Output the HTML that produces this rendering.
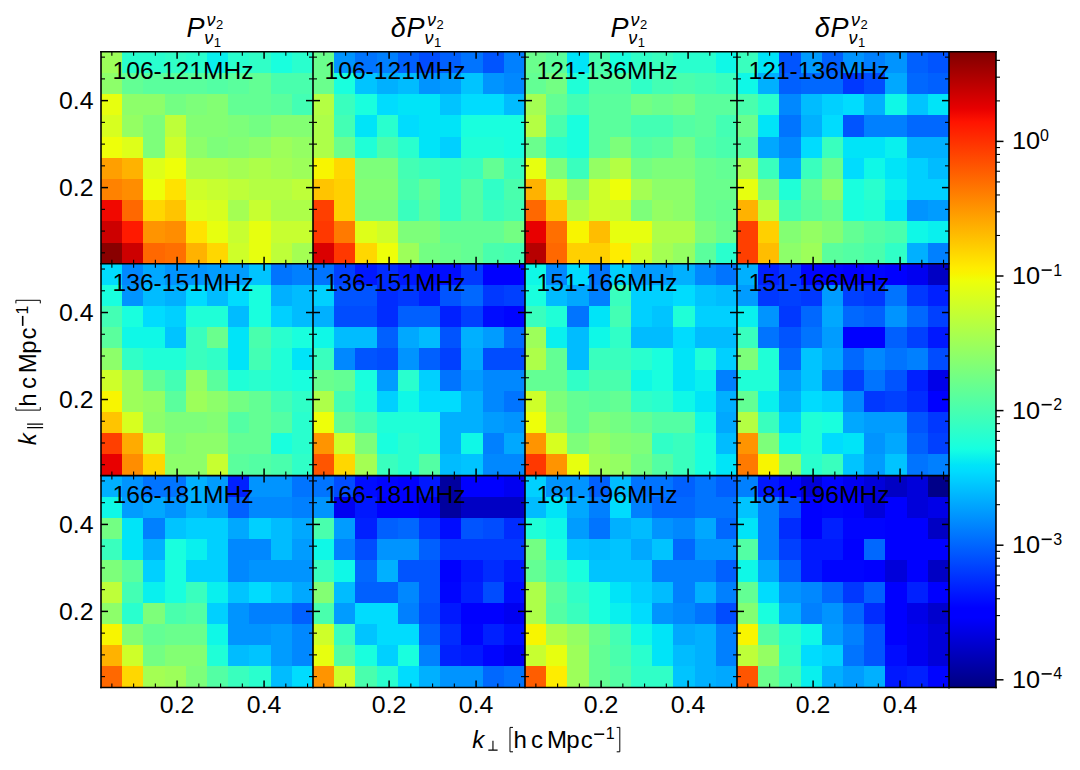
<!DOCTYPE html><html><head><meta charset="utf-8"><title>figure</title><style>html,body{margin:0;padding:0;background:#fff;width:1080px;height:770px;overflow:hidden}svg{display:block}text{font-family:"Liberation Sans",sans-serif;fill:#000}</style></head><body>
<svg width="1080" height="770" viewBox="0 0 1080 770">
<rect x="0" y="0" width="1080" height="770" fill="#fff"/>
<g shape-rendering="crispEdges">
<rect x="101.00" y="51.80" width="21.80" height="21.79" fill="#9dff5a"/>
<rect x="122.20" y="51.80" width="21.80" height="21.79" fill="#29ffce"/>
<rect x="143.40" y="51.80" width="21.80" height="21.79" fill="#29ffce"/>
<rect x="164.60" y="51.80" width="21.80" height="21.79" fill="#30ffc7"/>
<rect x="185.80" y="51.80" width="21.80" height="21.79" fill="#29ffce"/>
<rect x="207.00" y="51.80" width="21.80" height="21.79" fill="#09f0ee"/>
<rect x="228.20" y="51.80" width="21.80" height="21.79" fill="#29ffce"/>
<rect x="249.40" y="51.80" width="21.80" height="21.79" fill="#30ffc7"/>
<rect x="270.60" y="51.80" width="21.80" height="21.79" fill="#19ffde"/>
<rect x="291.80" y="51.80" width="21.80" height="21.79" fill="#29ffce"/>
<rect x="101.00" y="72.99" width="21.80" height="21.79" fill="#8dff6a"/>
<rect x="122.20" y="72.99" width="21.80" height="21.79" fill="#63ff94"/>
<rect x="143.40" y="72.99" width="21.80" height="21.79" fill="#5aff9d"/>
<rect x="164.60" y="72.99" width="21.80" height="21.79" fill="#5aff9d"/>
<rect x="185.80" y="72.99" width="21.80" height="21.79" fill="#5aff9d"/>
<rect x="207.00" y="72.99" width="21.80" height="21.79" fill="#53ffa4"/>
<rect x="228.20" y="72.99" width="21.80" height="21.79" fill="#5aff9d"/>
<rect x="249.40" y="72.99" width="21.80" height="21.79" fill="#63ff94"/>
<rect x="270.60" y="72.99" width="21.80" height="21.79" fill="#49ffad"/>
<rect x="291.80" y="72.99" width="21.80" height="21.79" fill="#49ffad"/>
<rect x="101.00" y="94.18" width="21.80" height="21.79" fill="#e7ff0f"/>
<rect x="122.20" y="94.18" width="21.80" height="21.79" fill="#8dff6a"/>
<rect x="143.40" y="94.18" width="21.80" height="21.79" fill="#8dff6a"/>
<rect x="164.60" y="94.18" width="21.80" height="21.79" fill="#73ff83"/>
<rect x="185.80" y="94.18" width="21.80" height="21.79" fill="#7dff7a"/>
<rect x="207.00" y="94.18" width="21.80" height="21.79" fill="#83ff73"/>
<rect x="228.20" y="94.18" width="21.80" height="21.79" fill="#63ff94"/>
<rect x="249.40" y="94.18" width="21.80" height="21.79" fill="#63ff94"/>
<rect x="270.60" y="94.18" width="21.80" height="21.79" fill="#5aff9d"/>
<rect x="291.80" y="94.18" width="21.80" height="21.79" fill="#43ffb4"/>
<rect x="101.00" y="115.37" width="21.80" height="21.79" fill="#d7ff1f"/>
<rect x="122.20" y="115.37" width="21.80" height="21.79" fill="#94ff63"/>
<rect x="143.40" y="115.37" width="21.80" height="21.79" fill="#7dff7a"/>
<rect x="164.60" y="115.37" width="21.80" height="21.79" fill="#beff39"/>
<rect x="185.80" y="115.37" width="21.80" height="21.79" fill="#83ff73"/>
<rect x="207.00" y="115.37" width="21.80" height="21.79" fill="#83ff73"/>
<rect x="228.20" y="115.37" width="21.80" height="21.79" fill="#7dff7a"/>
<rect x="249.40" y="115.37" width="21.80" height="21.79" fill="#73ff83"/>
<rect x="270.60" y="115.37" width="21.80" height="21.79" fill="#83ff73"/>
<rect x="291.80" y="115.37" width="21.80" height="21.79" fill="#83ff73"/>
<rect x="101.00" y="136.56" width="21.80" height="21.79" fill="#eeff09"/>
<rect x="122.20" y="136.56" width="21.80" height="21.79" fill="#deff19"/>
<rect x="143.40" y="136.56" width="21.80" height="21.79" fill="#7dff7a"/>
<rect x="164.60" y="136.56" width="21.80" height="21.79" fill="#ceff29"/>
<rect x="185.80" y="136.56" width="21.80" height="21.79" fill="#8dff6a"/>
<rect x="207.00" y="136.56" width="21.80" height="21.79" fill="#7dff7a"/>
<rect x="228.20" y="136.56" width="21.80" height="21.79" fill="#83ff73"/>
<rect x="249.40" y="136.56" width="21.80" height="21.79" fill="#8dff6a"/>
<rect x="270.60" y="136.56" width="21.80" height="21.79" fill="#9dff5a"/>
<rect x="291.80" y="136.56" width="21.80" height="21.79" fill="#94ff63"/>
<rect x="101.00" y="157.75" width="21.80" height="21.79" fill="#ff9f00"/>
<rect x="122.20" y="157.75" width="21.80" height="21.79" fill="#ffb200"/>
<rect x="143.40" y="157.75" width="21.80" height="21.79" fill="#deff19"/>
<rect x="164.60" y="157.75" width="21.80" height="21.79" fill="#eeff09"/>
<rect x="185.80" y="157.75" width="21.80" height="21.79" fill="#adff49"/>
<rect x="207.00" y="157.75" width="21.80" height="21.79" fill="#adff49"/>
<rect x="228.20" y="157.75" width="21.80" height="21.79" fill="#a4ff53"/>
<rect x="249.40" y="157.75" width="21.80" height="21.79" fill="#adff49"/>
<rect x="270.60" y="157.75" width="21.80" height="21.79" fill="#a4ff53"/>
<rect x="291.80" y="157.75" width="21.80" height="21.79" fill="#9dff5a"/>
<rect x="101.00" y="178.94" width="21.80" height="21.79" fill="#ff8200"/>
<rect x="122.20" y="178.94" width="21.80" height="21.79" fill="#ff8d00"/>
<rect x="143.40" y="178.94" width="21.80" height="21.79" fill="#eeff09"/>
<rect x="164.60" y="178.94" width="21.80" height="21.79" fill="#ffe200"/>
<rect x="185.80" y="178.94" width="21.80" height="21.79" fill="#ceff29"/>
<rect x="207.00" y="178.94" width="21.80" height="21.79" fill="#c7ff30"/>
<rect x="228.20" y="178.94" width="21.80" height="21.79" fill="#beff39"/>
<rect x="249.40" y="178.94" width="21.80" height="21.79" fill="#b4ff43"/>
<rect x="270.60" y="178.94" width="21.80" height="21.79" fill="#b4ff43"/>
<rect x="291.80" y="178.94" width="21.80" height="21.79" fill="#beff39"/>
<rect x="101.00" y="200.13" width="21.80" height="21.79" fill="#f10800"/>
<rect x="122.20" y="200.13" width="21.80" height="21.79" fill="#ff6800"/>
<rect x="143.40" y="200.13" width="21.80" height="21.79" fill="#ffd700"/>
<rect x="164.60" y="200.13" width="21.80" height="21.79" fill="#ffc400"/>
<rect x="185.80" y="200.13" width="21.80" height="21.79" fill="#deff19"/>
<rect x="207.00" y="200.13" width="21.80" height="21.79" fill="#d7ff1f"/>
<rect x="228.20" y="200.13" width="21.80" height="21.79" fill="#a4ff53"/>
<rect x="249.40" y="200.13" width="21.80" height="21.79" fill="#c7ff30"/>
<rect x="270.60" y="200.13" width="21.80" height="21.79" fill="#adff49"/>
<rect x="291.80" y="200.13" width="21.80" height="21.79" fill="#adff49"/>
<rect x="101.00" y="221.32" width="21.80" height="21.79" fill="#cd0000"/>
<rect x="122.20" y="221.32" width="21.80" height="21.79" fill="#ff1a00"/>
<rect x="143.40" y="221.32" width="21.80" height="21.79" fill="#ff9400"/>
<rect x="164.60" y="221.32" width="21.80" height="21.79" fill="#ff8d00"/>
<rect x="185.80" y="221.32" width="21.80" height="21.79" fill="#ffe200"/>
<rect x="207.00" y="221.32" width="21.80" height="21.79" fill="#e7ff0f"/>
<rect x="228.20" y="221.32" width="21.80" height="21.79" fill="#c7ff30"/>
<rect x="249.40" y="221.32" width="21.80" height="21.79" fill="#e7ff0f"/>
<rect x="270.60" y="221.32" width="21.80" height="21.79" fill="#c7ff30"/>
<rect x="291.80" y="221.32" width="21.80" height="21.79" fill="#c7ff30"/>
<rect x="101.00" y="242.51" width="21.80" height="21.79" fill="#890000"/>
<rect x="122.20" y="242.51" width="21.80" height="21.79" fill="#cd0000"/>
<rect x="143.40" y="242.51" width="21.80" height="21.79" fill="#ff6800"/>
<rect x="164.60" y="242.51" width="21.80" height="21.79" fill="#ff6f00"/>
<rect x="185.80" y="242.51" width="21.80" height="21.79" fill="#ffb200"/>
<rect x="207.00" y="242.51" width="21.80" height="21.79" fill="#ffd700"/>
<rect x="228.20" y="242.51" width="21.80" height="21.79" fill="#ceff29"/>
<rect x="249.40" y="242.51" width="21.80" height="21.79" fill="#e7ff0f"/>
<rect x="270.60" y="242.51" width="21.80" height="21.79" fill="#beff39"/>
<rect x="291.80" y="242.51" width="21.80" height="21.79" fill="#a4ff53"/>
<rect x="313.00" y="51.80" width="21.80" height="21.79" fill="#6aff8d"/>
<rect x="334.20" y="51.80" width="21.80" height="21.79" fill="#0094ff"/>
<rect x="355.40" y="51.80" width="21.80" height="21.79" fill="#0074ff"/>
<rect x="376.60" y="51.80" width="21.80" height="21.79" fill="#0080ff"/>
<rect x="397.80" y="51.80" width="21.80" height="21.79" fill="#0060ff"/>
<rect x="419.00" y="51.80" width="21.80" height="21.79" fill="#004cff"/>
<rect x="440.20" y="51.80" width="21.80" height="21.79" fill="#0060ff"/>
<rect x="461.40" y="51.80" width="21.80" height="21.79" fill="#0074ff"/>
<rect x="482.60" y="51.80" width="21.80" height="21.79" fill="#0054ff"/>
<rect x="503.80" y="51.80" width="21.80" height="21.79" fill="#0080ff"/>
<rect x="313.00" y="72.99" width="21.80" height="21.79" fill="#6aff8d"/>
<rect x="334.20" y="72.99" width="21.80" height="21.79" fill="#19ffde"/>
<rect x="355.40" y="72.99" width="21.80" height="21.79" fill="#00c4ff"/>
<rect x="376.60" y="72.99" width="21.80" height="21.79" fill="#00b0ff"/>
<rect x="397.80" y="72.99" width="21.80" height="21.79" fill="#00bcff"/>
<rect x="419.00" y="72.99" width="21.80" height="21.79" fill="#0094ff"/>
<rect x="440.20" y="72.99" width="21.80" height="21.79" fill="#009cff"/>
<rect x="461.40" y="72.99" width="21.80" height="21.79" fill="#00c4ff"/>
<rect x="482.60" y="72.99" width="21.80" height="21.79" fill="#0094ff"/>
<rect x="503.80" y="72.99" width="21.80" height="21.79" fill="#0088ff"/>
<rect x="313.00" y="94.18" width="21.80" height="21.79" fill="#b4ff43"/>
<rect x="334.20" y="94.18" width="21.80" height="21.79" fill="#39ffbe"/>
<rect x="355.40" y="94.18" width="21.80" height="21.79" fill="#19ffde"/>
<rect x="376.60" y="94.18" width="21.80" height="21.79" fill="#00dcfe"/>
<rect x="397.80" y="94.18" width="21.80" height="21.79" fill="#00e4f8"/>
<rect x="419.00" y="94.18" width="21.80" height="21.79" fill="#00e4f8"/>
<rect x="440.20" y="94.18" width="21.80" height="21.79" fill="#00c4ff"/>
<rect x="461.40" y="94.18" width="21.80" height="21.79" fill="#00dcfe"/>
<rect x="482.60" y="94.18" width="21.80" height="21.79" fill="#00dcfe"/>
<rect x="503.80" y="94.18" width="21.80" height="21.79" fill="#00bcff"/>
<rect x="313.00" y="115.37" width="21.80" height="21.79" fill="#adff49"/>
<rect x="334.20" y="115.37" width="21.80" height="21.79" fill="#43ffb4"/>
<rect x="355.40" y="115.37" width="21.80" height="21.79" fill="#00e4f8"/>
<rect x="376.60" y="115.37" width="21.80" height="21.79" fill="#29ffce"/>
<rect x="397.80" y="115.37" width="21.80" height="21.79" fill="#00dcfe"/>
<rect x="419.00" y="115.37" width="21.80" height="21.79" fill="#00e4f8"/>
<rect x="440.20" y="115.37" width="21.80" height="21.79" fill="#00e4f8"/>
<rect x="461.40" y="115.37" width="21.80" height="21.79" fill="#19ffde"/>
<rect x="482.60" y="115.37" width="21.80" height="21.79" fill="#19ffde"/>
<rect x="503.80" y="115.37" width="21.80" height="21.79" fill="#19ffde"/>
<rect x="313.00" y="136.56" width="21.80" height="21.79" fill="#adff49"/>
<rect x="334.20" y="136.56" width="21.80" height="21.79" fill="#6aff8d"/>
<rect x="355.40" y="136.56" width="21.80" height="21.79" fill="#1fffd7"/>
<rect x="376.60" y="136.56" width="21.80" height="21.79" fill="#49ffad"/>
<rect x="397.80" y="136.56" width="21.80" height="21.79" fill="#29ffce"/>
<rect x="419.00" y="136.56" width="21.80" height="21.79" fill="#00e4f8"/>
<rect x="440.20" y="136.56" width="21.80" height="21.79" fill="#00d0ff"/>
<rect x="461.40" y="136.56" width="21.80" height="21.79" fill="#1fffd7"/>
<rect x="482.60" y="136.56" width="21.80" height="21.79" fill="#1fffd7"/>
<rect x="503.80" y="136.56" width="21.80" height="21.79" fill="#19ffde"/>
<rect x="313.00" y="157.75" width="21.80" height="21.79" fill="#f8f500"/>
<rect x="334.20" y="157.75" width="21.80" height="21.79" fill="#ffd700"/>
<rect x="355.40" y="157.75" width="21.80" height="21.79" fill="#7dff7a"/>
<rect x="376.60" y="157.75" width="21.80" height="21.79" fill="#7dff7a"/>
<rect x="397.80" y="157.75" width="21.80" height="21.79" fill="#43ffb4"/>
<rect x="419.00" y="157.75" width="21.80" height="21.79" fill="#39ffbe"/>
<rect x="440.20" y="157.75" width="21.80" height="21.79" fill="#30ffc7"/>
<rect x="461.40" y="157.75" width="21.80" height="21.79" fill="#39ffbe"/>
<rect x="482.60" y="157.75" width="21.80" height="21.79" fill="#63ff94"/>
<rect x="503.80" y="157.75" width="21.80" height="21.79" fill="#39ffbe"/>
<rect x="313.00" y="178.94" width="21.80" height="21.79" fill="#ffc400"/>
<rect x="334.20" y="178.94" width="21.80" height="21.79" fill="#ffd000"/>
<rect x="355.40" y="178.94" width="21.80" height="21.79" fill="#83ff73"/>
<rect x="376.60" y="178.94" width="21.80" height="21.79" fill="#83ff73"/>
<rect x="397.80" y="178.94" width="21.80" height="21.79" fill="#49ffad"/>
<rect x="419.00" y="178.94" width="21.80" height="21.79" fill="#63ff94"/>
<rect x="440.20" y="178.94" width="21.80" height="21.79" fill="#30ffc7"/>
<rect x="461.40" y="178.94" width="21.80" height="21.79" fill="#53ffa4"/>
<rect x="482.60" y="178.94" width="21.80" height="21.79" fill="#30ffc7"/>
<rect x="503.80" y="178.94" width="21.80" height="21.79" fill="#49ffad"/>
<rect x="313.00" y="200.13" width="21.80" height="21.79" fill="#ff3f00"/>
<rect x="334.20" y="200.13" width="21.80" height="21.79" fill="#ffd000"/>
<rect x="355.40" y="200.13" width="21.80" height="21.79" fill="#7dff7a"/>
<rect x="376.60" y="200.13" width="21.80" height="21.79" fill="#7dff7a"/>
<rect x="397.80" y="200.13" width="21.80" height="21.79" fill="#39ffbe"/>
<rect x="419.00" y="200.13" width="21.80" height="21.79" fill="#5aff9d"/>
<rect x="440.20" y="200.13" width="21.80" height="21.79" fill="#30ffc7"/>
<rect x="461.40" y="200.13" width="21.80" height="21.79" fill="#53ffa4"/>
<rect x="482.60" y="200.13" width="21.80" height="21.79" fill="#39ffbe"/>
<rect x="503.80" y="200.13" width="21.80" height="21.79" fill="#43ffb4"/>
<rect x="313.00" y="221.32" width="21.80" height="21.79" fill="#ff3800"/>
<rect x="334.20" y="221.32" width="21.80" height="21.79" fill="#ff7a00"/>
<rect x="355.40" y="221.32" width="21.80" height="21.79" fill="#deff19"/>
<rect x="376.60" y="221.32" width="21.80" height="21.79" fill="#ceff29"/>
<rect x="397.80" y="221.32" width="21.80" height="21.79" fill="#7dff7a"/>
<rect x="419.00" y="221.32" width="21.80" height="21.79" fill="#7dff7a"/>
<rect x="440.20" y="221.32" width="21.80" height="21.79" fill="#63ff94"/>
<rect x="461.40" y="221.32" width="21.80" height="21.79" fill="#63ff94"/>
<rect x="482.60" y="221.32" width="21.80" height="21.79" fill="#63ff94"/>
<rect x="503.80" y="221.32" width="21.80" height="21.79" fill="#73ff83"/>
<rect x="313.00" y="242.51" width="21.80" height="21.79" fill="#da0000"/>
<rect x="334.20" y="242.51" width="21.80" height="21.79" fill="#ff3800"/>
<rect x="355.40" y="242.51" width="21.80" height="21.79" fill="#ffd700"/>
<rect x="376.60" y="242.51" width="21.80" height="21.79" fill="#eeff09"/>
<rect x="397.80" y="242.51" width="21.80" height="21.79" fill="#9dff5a"/>
<rect x="419.00" y="242.51" width="21.80" height="21.79" fill="#73ff83"/>
<rect x="440.20" y="242.51" width="21.80" height="21.79" fill="#6aff8d"/>
<rect x="461.40" y="242.51" width="21.80" height="21.79" fill="#63ff94"/>
<rect x="482.60" y="242.51" width="21.80" height="21.79" fill="#49ffad"/>
<rect x="503.80" y="242.51" width="21.80" height="21.79" fill="#43ffb4"/>
<rect x="525.00" y="51.80" width="21.80" height="21.79" fill="#6aff8d"/>
<rect x="546.20" y="51.80" width="21.80" height="21.79" fill="#5aff9d"/>
<rect x="567.40" y="51.80" width="21.80" height="21.79" fill="#00e4f8"/>
<rect x="588.60" y="51.80" width="21.80" height="21.79" fill="#49ffad"/>
<rect x="609.80" y="51.80" width="21.80" height="21.79" fill="#19ffde"/>
<rect x="631.00" y="51.80" width="21.80" height="21.79" fill="#30ffc7"/>
<rect x="652.20" y="51.80" width="21.80" height="21.79" fill="#39ffbe"/>
<rect x="673.40" y="51.80" width="21.80" height="21.79" fill="#29ffce"/>
<rect x="694.60" y="51.80" width="21.80" height="21.79" fill="#29ffce"/>
<rect x="715.80" y="51.80" width="21.80" height="21.79" fill="#0ff8e7"/>
<rect x="525.00" y="72.99" width="21.80" height="21.79" fill="#63ff94"/>
<rect x="546.20" y="72.99" width="21.80" height="21.79" fill="#73ff83"/>
<rect x="567.40" y="72.99" width="21.80" height="21.79" fill="#1fffd7"/>
<rect x="588.60" y="72.99" width="21.80" height="21.79" fill="#53ffa4"/>
<rect x="609.80" y="72.99" width="21.80" height="21.79" fill="#53ffa4"/>
<rect x="631.00" y="72.99" width="21.80" height="21.79" fill="#30ffc7"/>
<rect x="652.20" y="72.99" width="21.80" height="21.79" fill="#43ffb4"/>
<rect x="673.40" y="72.99" width="21.80" height="21.79" fill="#49ffad"/>
<rect x="694.60" y="72.99" width="21.80" height="21.79" fill="#43ffb4"/>
<rect x="715.80" y="72.99" width="21.80" height="21.79" fill="#39ffbe"/>
<rect x="525.00" y="94.18" width="21.80" height="21.79" fill="#a4ff53"/>
<rect x="546.20" y="94.18" width="21.80" height="21.79" fill="#63ff94"/>
<rect x="567.40" y="94.18" width="21.80" height="21.79" fill="#43ffb4"/>
<rect x="588.60" y="94.18" width="21.80" height="21.79" fill="#5aff9d"/>
<rect x="609.80" y="94.18" width="21.80" height="21.79" fill="#5aff9d"/>
<rect x="631.00" y="94.18" width="21.80" height="21.79" fill="#73ff83"/>
<rect x="652.20" y="94.18" width="21.80" height="21.79" fill="#6aff8d"/>
<rect x="673.40" y="94.18" width="21.80" height="21.79" fill="#73ff83"/>
<rect x="694.60" y="94.18" width="21.80" height="21.79" fill="#5aff9d"/>
<rect x="715.80" y="94.18" width="21.80" height="21.79" fill="#5aff9d"/>
<rect x="525.00" y="115.37" width="21.80" height="21.79" fill="#b4ff43"/>
<rect x="546.20" y="115.37" width="21.80" height="21.79" fill="#49ffad"/>
<rect x="567.40" y="115.37" width="21.80" height="21.79" fill="#19ffde"/>
<rect x="588.60" y="115.37" width="21.80" height="21.79" fill="#5aff9d"/>
<rect x="609.80" y="115.37" width="21.80" height="21.79" fill="#5aff9d"/>
<rect x="631.00" y="115.37" width="21.80" height="21.79" fill="#43ffb4"/>
<rect x="652.20" y="115.37" width="21.80" height="21.79" fill="#43ffb4"/>
<rect x="673.40" y="115.37" width="21.80" height="21.79" fill="#53ffa4"/>
<rect x="694.60" y="115.37" width="21.80" height="21.79" fill="#5aff9d"/>
<rect x="715.80" y="115.37" width="21.80" height="21.79" fill="#43ffb4"/>
<rect x="525.00" y="136.56" width="21.80" height="21.79" fill="#6aff8d"/>
<rect x="546.20" y="136.56" width="21.80" height="21.79" fill="#29ffce"/>
<rect x="567.40" y="136.56" width="21.80" height="21.79" fill="#19ffde"/>
<rect x="588.60" y="136.56" width="21.80" height="21.79" fill="#5aff9d"/>
<rect x="609.80" y="136.56" width="21.80" height="21.79" fill="#7dff7a"/>
<rect x="631.00" y="136.56" width="21.80" height="21.79" fill="#53ffa4"/>
<rect x="652.20" y="136.56" width="21.80" height="21.79" fill="#5aff9d"/>
<rect x="673.40" y="136.56" width="21.80" height="21.79" fill="#73ff83"/>
<rect x="694.60" y="136.56" width="21.80" height="21.79" fill="#53ffa4"/>
<rect x="715.80" y="136.56" width="21.80" height="21.79" fill="#49ffad"/>
<rect x="525.00" y="157.75" width="21.80" height="21.79" fill="#e7ff0f"/>
<rect x="546.20" y="157.75" width="21.80" height="21.79" fill="#7dff7a"/>
<rect x="567.40" y="157.75" width="21.80" height="21.79" fill="#39ffbe"/>
<rect x="588.60" y="157.75" width="21.80" height="21.79" fill="#94ff63"/>
<rect x="609.80" y="157.75" width="21.80" height="21.79" fill="#b4ff43"/>
<rect x="631.00" y="157.75" width="21.80" height="21.79" fill="#73ff83"/>
<rect x="652.20" y="157.75" width="21.80" height="21.79" fill="#7dff7a"/>
<rect x="673.40" y="157.75" width="21.80" height="21.79" fill="#7dff7a"/>
<rect x="694.60" y="157.75" width="21.80" height="21.79" fill="#6aff8d"/>
<rect x="715.80" y="157.75" width="21.80" height="21.79" fill="#63ff94"/>
<rect x="525.00" y="178.94" width="21.80" height="21.79" fill="#ffb200"/>
<rect x="546.20" y="178.94" width="21.80" height="21.79" fill="#ceff29"/>
<rect x="567.40" y="178.94" width="21.80" height="21.79" fill="#8dff6a"/>
<rect x="588.60" y="178.94" width="21.80" height="21.79" fill="#ceff29"/>
<rect x="609.80" y="178.94" width="21.80" height="21.79" fill="#eeff09"/>
<rect x="631.00" y="178.94" width="21.80" height="21.79" fill="#a4ff53"/>
<rect x="652.20" y="178.94" width="21.80" height="21.79" fill="#8dff6a"/>
<rect x="673.40" y="178.94" width="21.80" height="21.79" fill="#8dff6a"/>
<rect x="694.60" y="178.94" width="21.80" height="21.79" fill="#6aff8d"/>
<rect x="715.80" y="178.94" width="21.80" height="21.79" fill="#6aff8d"/>
<rect x="525.00" y="200.13" width="21.80" height="21.79" fill="#ff6800"/>
<rect x="546.20" y="200.13" width="21.80" height="21.79" fill="#ffc400"/>
<rect x="567.40" y="200.13" width="21.80" height="21.79" fill="#b4ff43"/>
<rect x="588.60" y="200.13" width="21.80" height="21.79" fill="#ceff29"/>
<rect x="609.80" y="200.13" width="21.80" height="21.79" fill="#c7ff30"/>
<rect x="631.00" y="200.13" width="21.80" height="21.79" fill="#7dff7a"/>
<rect x="652.20" y="200.13" width="21.80" height="21.79" fill="#94ff63"/>
<rect x="673.40" y="200.13" width="21.80" height="21.79" fill="#8dff6a"/>
<rect x="694.60" y="200.13" width="21.80" height="21.79" fill="#6aff8d"/>
<rect x="715.80" y="200.13" width="21.80" height="21.79" fill="#63ff94"/>
<rect x="525.00" y="221.32" width="21.80" height="21.79" fill="#e80000"/>
<rect x="546.20" y="221.32" width="21.80" height="21.79" fill="#ff6f00"/>
<rect x="567.40" y="221.32" width="21.80" height="21.79" fill="#f8f500"/>
<rect x="588.60" y="221.32" width="21.80" height="21.79" fill="#ffbd00"/>
<rect x="609.80" y="221.32" width="21.80" height="21.79" fill="#e7ff0f"/>
<rect x="631.00" y="221.32" width="21.80" height="21.79" fill="#e7ff0f"/>
<rect x="652.20" y="221.32" width="21.80" height="21.79" fill="#adff49"/>
<rect x="673.40" y="221.32" width="21.80" height="21.79" fill="#adff49"/>
<rect x="694.60" y="221.32" width="21.80" height="21.79" fill="#7dff7a"/>
<rect x="715.80" y="221.32" width="21.80" height="21.79" fill="#6aff8d"/>
<rect x="525.00" y="242.51" width="21.80" height="21.79" fill="#b60000"/>
<rect x="546.20" y="242.51" width="21.80" height="21.79" fill="#ff6800"/>
<rect x="567.40" y="242.51" width="21.80" height="21.79" fill="#ffd000"/>
<rect x="588.60" y="242.51" width="21.80" height="21.79" fill="#ffd000"/>
<rect x="609.80" y="242.51" width="21.80" height="21.79" fill="#feed00"/>
<rect x="631.00" y="242.51" width="21.80" height="21.79" fill="#ceff29"/>
<rect x="652.20" y="242.51" width="21.80" height="21.79" fill="#a4ff53"/>
<rect x="673.40" y="242.51" width="21.80" height="21.79" fill="#94ff63"/>
<rect x="694.60" y="242.51" width="21.80" height="21.79" fill="#5aff9d"/>
<rect x="715.80" y="242.51" width="21.80" height="21.79" fill="#29ffce"/>
<rect x="737.00" y="51.80" width="21.80" height="21.79" fill="#39ffbe"/>
<rect x="758.20" y="51.80" width="21.80" height="21.79" fill="#00e4f8"/>
<rect x="779.40" y="51.80" width="21.80" height="21.79" fill="#0054ff"/>
<rect x="800.60" y="51.80" width="21.80" height="21.79" fill="#009cff"/>
<rect x="821.80" y="51.80" width="21.80" height="21.79" fill="#0060ff"/>
<rect x="843.00" y="51.80" width="21.80" height="21.79" fill="#0094ff"/>
<rect x="864.20" y="51.80" width="21.80" height="21.79" fill="#0080ff"/>
<rect x="885.40" y="51.80" width="21.80" height="21.79" fill="#0094ff"/>
<rect x="906.60" y="51.80" width="21.80" height="21.79" fill="#0060ff"/>
<rect x="927.80" y="51.80" width="21.80" height="21.79" fill="#0054ff"/>
<rect x="737.00" y="72.99" width="21.80" height="21.79" fill="#0ff8e7"/>
<rect x="758.20" y="72.99" width="21.80" height="21.79" fill="#00b0ff"/>
<rect x="779.40" y="72.99" width="21.80" height="21.79" fill="#0060ff"/>
<rect x="800.60" y="72.99" width="21.80" height="21.79" fill="#0068ff"/>
<rect x="821.80" y="72.99" width="21.80" height="21.79" fill="#0068ff"/>
<rect x="843.00" y="72.99" width="21.80" height="21.79" fill="#0038ff"/>
<rect x="864.20" y="72.99" width="21.80" height="21.79" fill="#004cff"/>
<rect x="885.40" y="72.99" width="21.80" height="21.79" fill="#00a8ff"/>
<rect x="906.60" y="72.99" width="21.80" height="21.79" fill="#0068ff"/>
<rect x="927.80" y="72.99" width="21.80" height="21.79" fill="#0060ff"/>
<rect x="737.00" y="94.18" width="21.80" height="21.79" fill="#49ffad"/>
<rect x="758.20" y="94.18" width="21.80" height="21.79" fill="#29ffce"/>
<rect x="779.40" y="94.18" width="21.80" height="21.79" fill="#0088ff"/>
<rect x="800.60" y="94.18" width="21.80" height="21.79" fill="#00bcff"/>
<rect x="821.80" y="94.18" width="21.80" height="21.79" fill="#00d0ff"/>
<rect x="843.00" y="94.18" width="21.80" height="21.79" fill="#00dcfe"/>
<rect x="864.20" y="94.18" width="21.80" height="21.79" fill="#00b0ff"/>
<rect x="885.40" y="94.18" width="21.80" height="21.79" fill="#0ff8e7"/>
<rect x="906.60" y="94.18" width="21.80" height="21.79" fill="#00c4ff"/>
<rect x="927.80" y="94.18" width="21.80" height="21.79" fill="#00e4f8"/>
<rect x="737.00" y="115.37" width="21.80" height="21.79" fill="#6aff8d"/>
<rect x="758.20" y="115.37" width="21.80" height="21.79" fill="#00e4f8"/>
<rect x="779.40" y="115.37" width="21.80" height="21.79" fill="#0074ff"/>
<rect x="800.60" y="115.37" width="21.80" height="21.79" fill="#00b0ff"/>
<rect x="821.80" y="115.37" width="21.80" height="21.79" fill="#00dcfe"/>
<rect x="843.00" y="115.37" width="21.80" height="21.79" fill="#0054ff"/>
<rect x="864.20" y="115.37" width="21.80" height="21.79" fill="#0080ff"/>
<rect x="885.40" y="115.37" width="21.80" height="21.79" fill="#0080ff"/>
<rect x="906.60" y="115.37" width="21.80" height="21.79" fill="#0068ff"/>
<rect x="927.80" y="115.37" width="21.80" height="21.79" fill="#0068ff"/>
<rect x="737.00" y="136.56" width="21.80" height="21.79" fill="#53ffa4"/>
<rect x="758.20" y="136.56" width="21.80" height="21.79" fill="#00a8ff"/>
<rect x="779.40" y="136.56" width="21.80" height="21.79" fill="#0088ff"/>
<rect x="800.60" y="136.56" width="21.80" height="21.79" fill="#00dcfe"/>
<rect x="821.80" y="136.56" width="21.80" height="21.79" fill="#39ffbe"/>
<rect x="843.00" y="136.56" width="21.80" height="21.79" fill="#00e4f8"/>
<rect x="864.20" y="136.56" width="21.80" height="21.79" fill="#00e4f8"/>
<rect x="885.40" y="136.56" width="21.80" height="21.79" fill="#09f0ee"/>
<rect x="906.60" y="136.56" width="21.80" height="21.79" fill="#00b0ff"/>
<rect x="927.80" y="136.56" width="21.80" height="21.79" fill="#00b0ff"/>
<rect x="737.00" y="157.75" width="21.80" height="21.79" fill="#adff49"/>
<rect x="758.20" y="157.75" width="21.80" height="21.79" fill="#39ffbe"/>
<rect x="779.40" y="157.75" width="21.80" height="21.79" fill="#00a8ff"/>
<rect x="800.60" y="157.75" width="21.80" height="21.79" fill="#39ffbe"/>
<rect x="821.80" y="157.75" width="21.80" height="21.79" fill="#6aff8d"/>
<rect x="843.00" y="157.75" width="21.80" height="21.79" fill="#00dcfe"/>
<rect x="864.20" y="157.75" width="21.80" height="21.79" fill="#0ff8e7"/>
<rect x="885.40" y="157.75" width="21.80" height="21.79" fill="#00e4f8"/>
<rect x="906.60" y="157.75" width="21.80" height="21.79" fill="#00d0ff"/>
<rect x="927.80" y="157.75" width="21.80" height="21.79" fill="#00bcff"/>
<rect x="737.00" y="178.94" width="21.80" height="21.79" fill="#e7ff0f"/>
<rect x="758.20" y="178.94" width="21.80" height="21.79" fill="#7dff7a"/>
<rect x="779.40" y="178.94" width="21.80" height="21.79" fill="#1fffd7"/>
<rect x="800.60" y="178.94" width="21.80" height="21.79" fill="#63ff94"/>
<rect x="821.80" y="178.94" width="21.80" height="21.79" fill="#8dff6a"/>
<rect x="843.00" y="178.94" width="21.80" height="21.79" fill="#19ffde"/>
<rect x="864.20" y="178.94" width="21.80" height="21.79" fill="#29ffce"/>
<rect x="885.40" y="178.94" width="21.80" height="21.79" fill="#09f0ee"/>
<rect x="906.60" y="178.94" width="21.80" height="21.79" fill="#00d0ff"/>
<rect x="927.80" y="178.94" width="21.80" height="21.79" fill="#00d0ff"/>
<rect x="737.00" y="200.13" width="21.80" height="21.79" fill="#ffb200"/>
<rect x="758.20" y="200.13" width="21.80" height="21.79" fill="#beff39"/>
<rect x="779.40" y="200.13" width="21.80" height="21.79" fill="#43ffb4"/>
<rect x="800.60" y="200.13" width="21.80" height="21.79" fill="#5aff9d"/>
<rect x="821.80" y="200.13" width="21.80" height="21.79" fill="#6aff8d"/>
<rect x="843.00" y="200.13" width="21.80" height="21.79" fill="#19ffde"/>
<rect x="864.20" y="200.13" width="21.80" height="21.79" fill="#1fffd7"/>
<rect x="885.40" y="200.13" width="21.80" height="21.79" fill="#00e4f8"/>
<rect x="906.60" y="200.13" width="21.80" height="21.79" fill="#0094ff"/>
<rect x="927.80" y="200.13" width="21.80" height="21.79" fill="#009cff"/>
<rect x="737.00" y="221.32" width="21.80" height="21.79" fill="#ff3f00"/>
<rect x="758.20" y="221.32" width="21.80" height="21.79" fill="#ffd000"/>
<rect x="779.40" y="221.32" width="21.80" height="21.79" fill="#83ff73"/>
<rect x="800.60" y="221.32" width="21.80" height="21.79" fill="#94ff63"/>
<rect x="821.80" y="221.32" width="21.80" height="21.79" fill="#83ff73"/>
<rect x="843.00" y="221.32" width="21.80" height="21.79" fill="#63ff94"/>
<rect x="864.20" y="221.32" width="21.80" height="21.79" fill="#53ffa4"/>
<rect x="885.40" y="221.32" width="21.80" height="21.79" fill="#49ffad"/>
<rect x="906.60" y="221.32" width="21.80" height="21.79" fill="#0ff8e7"/>
<rect x="927.80" y="221.32" width="21.80" height="21.79" fill="#09f0ee"/>
<rect x="737.00" y="242.51" width="21.80" height="21.79" fill="#ff3f00"/>
<rect x="758.20" y="242.51" width="21.80" height="21.79" fill="#ffbd00"/>
<rect x="779.40" y="242.51" width="21.80" height="21.79" fill="#8dff6a"/>
<rect x="800.60" y="242.51" width="21.80" height="21.79" fill="#9dff5a"/>
<rect x="821.80" y="242.51" width="21.80" height="21.79" fill="#5aff9d"/>
<rect x="843.00" y="242.51" width="21.80" height="21.79" fill="#53ffa4"/>
<rect x="864.20" y="242.51" width="21.80" height="21.79" fill="#49ffad"/>
<rect x="885.40" y="242.51" width="21.80" height="21.79" fill="#30ffc7"/>
<rect x="906.60" y="242.51" width="21.80" height="21.79" fill="#00b0ff"/>
<rect x="927.80" y="242.51" width="21.80" height="21.79" fill="#0080ff"/>
<rect x="101.00" y="263.70" width="21.80" height="21.79" fill="#00dcfe"/>
<rect x="122.20" y="263.70" width="21.80" height="21.79" fill="#0088ff"/>
<rect x="143.40" y="263.70" width="21.80" height="21.79" fill="#00a8ff"/>
<rect x="164.60" y="263.70" width="21.80" height="21.79" fill="#0094ff"/>
<rect x="185.80" y="263.70" width="21.80" height="21.79" fill="#0094ff"/>
<rect x="207.00" y="263.70" width="21.80" height="21.79" fill="#009cff"/>
<rect x="228.20" y="263.70" width="21.80" height="21.79" fill="#009cff"/>
<rect x="249.40" y="263.70" width="21.80" height="21.79" fill="#00c4ff"/>
<rect x="270.60" y="263.70" width="21.80" height="21.79" fill="#0074ff"/>
<rect x="291.80" y="263.70" width="21.80" height="21.79" fill="#0080ff"/>
<rect x="101.00" y="284.89" width="21.80" height="21.79" fill="#19ffde"/>
<rect x="122.20" y="284.89" width="21.80" height="21.79" fill="#0094ff"/>
<rect x="143.40" y="284.89" width="21.80" height="21.79" fill="#00bcff"/>
<rect x="164.60" y="284.89" width="21.80" height="21.79" fill="#00b0ff"/>
<rect x="185.80" y="284.89" width="21.80" height="21.79" fill="#00dcfe"/>
<rect x="207.00" y="284.89" width="21.80" height="21.79" fill="#00bcff"/>
<rect x="228.20" y="284.89" width="21.80" height="21.79" fill="#00dcfe"/>
<rect x="249.40" y="284.89" width="21.80" height="21.79" fill="#19ffde"/>
<rect x="270.60" y="284.89" width="21.80" height="21.79" fill="#00b0ff"/>
<rect x="291.80" y="284.89" width="21.80" height="21.79" fill="#00bcff"/>
<rect x="101.00" y="306.08" width="21.80" height="21.79" fill="#43ffb4"/>
<rect x="122.20" y="306.08" width="21.80" height="21.79" fill="#19ffde"/>
<rect x="143.40" y="306.08" width="21.80" height="21.79" fill="#00dcfe"/>
<rect x="164.60" y="306.08" width="21.80" height="21.79" fill="#00d0ff"/>
<rect x="185.80" y="306.08" width="21.80" height="21.79" fill="#1fffd7"/>
<rect x="207.00" y="306.08" width="21.80" height="21.79" fill="#1fffd7"/>
<rect x="228.20" y="306.08" width="21.80" height="21.79" fill="#00bcff"/>
<rect x="249.40" y="306.08" width="21.80" height="21.79" fill="#19ffde"/>
<rect x="270.60" y="306.08" width="21.80" height="21.79" fill="#00d0ff"/>
<rect x="291.80" y="306.08" width="21.80" height="21.79" fill="#00bcff"/>
<rect x="101.00" y="327.27" width="21.80" height="21.79" fill="#5aff9d"/>
<rect x="122.20" y="327.27" width="21.80" height="21.79" fill="#0ff8e7"/>
<rect x="143.40" y="327.27" width="21.80" height="21.79" fill="#0ff8e7"/>
<rect x="164.60" y="327.27" width="21.80" height="21.79" fill="#00c4ff"/>
<rect x="185.80" y="327.27" width="21.80" height="21.79" fill="#39ffbe"/>
<rect x="207.00" y="327.27" width="21.80" height="21.79" fill="#6aff8d"/>
<rect x="228.20" y="327.27" width="21.80" height="21.79" fill="#00e4f8"/>
<rect x="249.40" y="327.27" width="21.80" height="21.79" fill="#49ffad"/>
<rect x="270.60" y="327.27" width="21.80" height="21.79" fill="#29ffce"/>
<rect x="291.80" y="327.27" width="21.80" height="21.79" fill="#19ffde"/>
<rect x="101.00" y="348.46" width="21.80" height="21.79" fill="#8dff6a"/>
<rect x="122.20" y="348.46" width="21.80" height="21.79" fill="#30ffc7"/>
<rect x="143.40" y="348.46" width="21.80" height="21.79" fill="#1fffd7"/>
<rect x="164.60" y="348.46" width="21.80" height="21.79" fill="#1fffd7"/>
<rect x="185.80" y="348.46" width="21.80" height="21.79" fill="#39ffbe"/>
<rect x="207.00" y="348.46" width="21.80" height="21.79" fill="#30ffc7"/>
<rect x="228.20" y="348.46" width="21.80" height="21.79" fill="#00e4f8"/>
<rect x="249.40" y="348.46" width="21.80" height="21.79" fill="#43ffb4"/>
<rect x="270.60" y="348.46" width="21.80" height="21.79" fill="#1fffd7"/>
<rect x="291.80" y="348.46" width="21.80" height="21.79" fill="#00e4f8"/>
<rect x="101.00" y="369.65" width="21.80" height="21.79" fill="#ceff29"/>
<rect x="122.20" y="369.65" width="21.80" height="21.79" fill="#9dff5a"/>
<rect x="143.40" y="369.65" width="21.80" height="21.79" fill="#63ff94"/>
<rect x="164.60" y="369.65" width="21.80" height="21.79" fill="#43ffb4"/>
<rect x="185.80" y="369.65" width="21.80" height="21.79" fill="#94ff63"/>
<rect x="207.00" y="369.65" width="21.80" height="21.79" fill="#5aff9d"/>
<rect x="228.20" y="369.65" width="21.80" height="21.79" fill="#1fffd7"/>
<rect x="249.40" y="369.65" width="21.80" height="21.79" fill="#29ffce"/>
<rect x="270.60" y="369.65" width="21.80" height="21.79" fill="#1fffd7"/>
<rect x="291.80" y="369.65" width="21.80" height="21.79" fill="#19ffde"/>
<rect x="101.00" y="390.84" width="21.80" height="21.79" fill="#f8f500"/>
<rect x="122.20" y="390.84" width="21.80" height="21.79" fill="#9dff5a"/>
<rect x="143.40" y="390.84" width="21.80" height="21.79" fill="#94ff63"/>
<rect x="164.60" y="390.84" width="21.80" height="21.79" fill="#5aff9d"/>
<rect x="185.80" y="390.84" width="21.80" height="21.79" fill="#9dff5a"/>
<rect x="207.00" y="390.84" width="21.80" height="21.79" fill="#8dff6a"/>
<rect x="228.20" y="390.84" width="21.80" height="21.79" fill="#73ff83"/>
<rect x="249.40" y="390.84" width="21.80" height="21.79" fill="#63ff94"/>
<rect x="270.60" y="390.84" width="21.80" height="21.79" fill="#43ffb4"/>
<rect x="291.80" y="390.84" width="21.80" height="21.79" fill="#30ffc7"/>
<rect x="101.00" y="412.03" width="21.80" height="21.79" fill="#ffc400"/>
<rect x="122.20" y="412.03" width="21.80" height="21.79" fill="#d7ff1f"/>
<rect x="143.40" y="412.03" width="21.80" height="21.79" fill="#8dff6a"/>
<rect x="164.60" y="412.03" width="21.80" height="21.79" fill="#7dff7a"/>
<rect x="185.80" y="412.03" width="21.80" height="21.79" fill="#7dff7a"/>
<rect x="207.00" y="412.03" width="21.80" height="21.79" fill="#83ff73"/>
<rect x="228.20" y="412.03" width="21.80" height="21.79" fill="#53ffa4"/>
<rect x="249.40" y="412.03" width="21.80" height="21.79" fill="#63ff94"/>
<rect x="270.60" y="412.03" width="21.80" height="21.79" fill="#53ffa4"/>
<rect x="291.80" y="412.03" width="21.80" height="21.79" fill="#29ffce"/>
<rect x="101.00" y="433.22" width="21.80" height="21.79" fill="#ff3f00"/>
<rect x="122.20" y="433.22" width="21.80" height="21.79" fill="#ffab00"/>
<rect x="143.40" y="433.22" width="21.80" height="21.79" fill="#ceff29"/>
<rect x="164.60" y="433.22" width="21.80" height="21.79" fill="#83ff73"/>
<rect x="185.80" y="433.22" width="21.80" height="21.79" fill="#8dff6a"/>
<rect x="207.00" y="433.22" width="21.80" height="21.79" fill="#8dff6a"/>
<rect x="228.20" y="433.22" width="21.80" height="21.79" fill="#63ff94"/>
<rect x="249.40" y="433.22" width="21.80" height="21.79" fill="#63ff94"/>
<rect x="270.60" y="433.22" width="21.80" height="21.79" fill="#19ffde"/>
<rect x="291.80" y="433.22" width="21.80" height="21.79" fill="#29ffce"/>
<rect x="101.00" y="454.41" width="21.80" height="21.79" fill="#e80000"/>
<rect x="122.20" y="454.41" width="21.80" height="21.79" fill="#ff8d00"/>
<rect x="143.40" y="454.41" width="21.80" height="21.79" fill="#ffd700"/>
<rect x="164.60" y="454.41" width="21.80" height="21.79" fill="#8dff6a"/>
<rect x="185.80" y="454.41" width="21.80" height="21.79" fill="#8dff6a"/>
<rect x="207.00" y="454.41" width="21.80" height="21.79" fill="#c7ff30"/>
<rect x="228.20" y="454.41" width="21.80" height="21.79" fill="#5aff9d"/>
<rect x="249.40" y="454.41" width="21.80" height="21.79" fill="#53ffa4"/>
<rect x="270.60" y="454.41" width="21.80" height="21.79" fill="#49ffad"/>
<rect x="291.80" y="454.41" width="21.80" height="21.79" fill="#30ffc7"/>
<rect x="313.00" y="263.70" width="21.80" height="21.79" fill="#0074ff"/>
<rect x="334.20" y="263.70" width="21.80" height="21.79" fill="#0040ff"/>
<rect x="355.40" y="263.70" width="21.80" height="21.79" fill="#0018ff"/>
<rect x="376.60" y="263.70" width="21.80" height="21.79" fill="#002cff"/>
<rect x="397.80" y="263.70" width="21.80" height="21.79" fill="#0018ff"/>
<rect x="419.00" y="263.70" width="21.80" height="21.79" fill="#000cff"/>
<rect x="440.20" y="263.70" width="21.80" height="21.79" fill="#000cff"/>
<rect x="461.40" y="263.70" width="21.80" height="21.79" fill="#0038ff"/>
<rect x="482.60" y="263.70" width="21.80" height="21.79" fill="#0000ff"/>
<rect x="503.80" y="263.70" width="21.80" height="21.79" fill="#0000ff"/>
<rect x="313.00" y="284.89" width="21.80" height="21.79" fill="#00d0ff"/>
<rect x="334.20" y="284.89" width="21.80" height="21.79" fill="#0054ff"/>
<rect x="355.40" y="284.89" width="21.80" height="21.79" fill="#0054ff"/>
<rect x="376.60" y="284.89" width="21.80" height="21.79" fill="#002cff"/>
<rect x="397.80" y="284.89" width="21.80" height="21.79" fill="#0038ff"/>
<rect x="419.00" y="284.89" width="21.80" height="21.79" fill="#0020ff"/>
<rect x="440.20" y="284.89" width="21.80" height="21.79" fill="#0054ff"/>
<rect x="461.40" y="284.89" width="21.80" height="21.79" fill="#0068ff"/>
<rect x="482.60" y="284.89" width="21.80" height="21.79" fill="#0038ff"/>
<rect x="503.80" y="284.89" width="21.80" height="21.79" fill="#0040ff"/>
<rect x="313.00" y="306.08" width="21.80" height="21.79" fill="#00b0ff"/>
<rect x="334.20" y="306.08" width="21.80" height="21.79" fill="#004cff"/>
<rect x="355.40" y="306.08" width="21.80" height="21.79" fill="#004cff"/>
<rect x="376.60" y="306.08" width="21.80" height="21.79" fill="#002cff"/>
<rect x="397.80" y="306.08" width="21.80" height="21.79" fill="#0060ff"/>
<rect x="419.00" y="306.08" width="21.80" height="21.79" fill="#0060ff"/>
<rect x="440.20" y="306.08" width="21.80" height="21.79" fill="#0020ff"/>
<rect x="461.40" y="306.08" width="21.80" height="21.79" fill="#0040ff"/>
<rect x="482.60" y="306.08" width="21.80" height="21.79" fill="#000cff"/>
<rect x="503.80" y="306.08" width="21.80" height="21.79" fill="#0004ff"/>
<rect x="313.00" y="327.27" width="21.80" height="21.79" fill="#0ff8e7"/>
<rect x="334.20" y="327.27" width="21.80" height="21.79" fill="#00bcff"/>
<rect x="355.40" y="327.27" width="21.80" height="21.79" fill="#00bcff"/>
<rect x="376.60" y="327.27" width="21.80" height="21.79" fill="#0060ff"/>
<rect x="397.80" y="327.27" width="21.80" height="21.79" fill="#00a8ff"/>
<rect x="419.00" y="327.27" width="21.80" height="21.79" fill="#00bcff"/>
<rect x="440.20" y="327.27" width="21.80" height="21.79" fill="#0054ff"/>
<rect x="461.40" y="327.27" width="21.80" height="21.79" fill="#00b0ff"/>
<rect x="482.60" y="327.27" width="21.80" height="21.79" fill="#009cff"/>
<rect x="503.80" y="327.27" width="21.80" height="21.79" fill="#0068ff"/>
<rect x="313.00" y="348.46" width="21.80" height="21.79" fill="#39ffbe"/>
<rect x="334.20" y="348.46" width="21.80" height="21.79" fill="#0088ff"/>
<rect x="355.40" y="348.46" width="21.80" height="21.79" fill="#0054ff"/>
<rect x="376.60" y="348.46" width="21.80" height="21.79" fill="#004cff"/>
<rect x="397.80" y="348.46" width="21.80" height="21.79" fill="#0094ff"/>
<rect x="419.00" y="348.46" width="21.80" height="21.79" fill="#0060ff"/>
<rect x="440.20" y="348.46" width="21.80" height="21.79" fill="#0040ff"/>
<rect x="461.40" y="348.46" width="21.80" height="21.79" fill="#00a8ff"/>
<rect x="482.60" y="348.46" width="21.80" height="21.79" fill="#004cff"/>
<rect x="503.80" y="348.46" width="21.80" height="21.79" fill="#004cff"/>
<rect x="313.00" y="369.65" width="21.80" height="21.79" fill="#6aff8d"/>
<rect x="334.20" y="369.65" width="21.80" height="21.79" fill="#63ff94"/>
<rect x="355.40" y="369.65" width="21.80" height="21.79" fill="#19ffde"/>
<rect x="376.60" y="369.65" width="21.80" height="21.79" fill="#009cff"/>
<rect x="397.80" y="369.65" width="21.80" height="21.79" fill="#29ffce"/>
<rect x="419.00" y="369.65" width="21.80" height="21.79" fill="#00d0ff"/>
<rect x="440.20" y="369.65" width="21.80" height="21.79" fill="#0074ff"/>
<rect x="461.40" y="369.65" width="21.80" height="21.79" fill="#009cff"/>
<rect x="482.60" y="369.65" width="21.80" height="21.79" fill="#0088ff"/>
<rect x="503.80" y="369.65" width="21.80" height="21.79" fill="#0088ff"/>
<rect x="313.00" y="390.84" width="21.80" height="21.79" fill="#adff49"/>
<rect x="334.20" y="390.84" width="21.80" height="21.79" fill="#43ffb4"/>
<rect x="355.40" y="390.84" width="21.80" height="21.79" fill="#1fffd7"/>
<rect x="376.60" y="390.84" width="21.80" height="21.79" fill="#00d0ff"/>
<rect x="397.80" y="390.84" width="21.80" height="21.79" fill="#0ff8e7"/>
<rect x="419.00" y="390.84" width="21.80" height="21.79" fill="#00dcfe"/>
<rect x="440.20" y="390.84" width="21.80" height="21.79" fill="#00dcfe"/>
<rect x="461.40" y="390.84" width="21.80" height="21.79" fill="#00b0ff"/>
<rect x="482.60" y="390.84" width="21.80" height="21.79" fill="#0088ff"/>
<rect x="503.80" y="390.84" width="21.80" height="21.79" fill="#0074ff"/>
<rect x="313.00" y="412.03" width="21.80" height="21.79" fill="#eeff09"/>
<rect x="334.20" y="412.03" width="21.80" height="21.79" fill="#63ff94"/>
<rect x="355.40" y="412.03" width="21.80" height="21.79" fill="#43ffb4"/>
<rect x="376.60" y="412.03" width="21.80" height="21.79" fill="#1fffd7"/>
<rect x="397.80" y="412.03" width="21.80" height="21.79" fill="#1fffd7"/>
<rect x="419.00" y="412.03" width="21.80" height="21.79" fill="#1fffd7"/>
<rect x="440.20" y="412.03" width="21.80" height="21.79" fill="#00b0ff"/>
<rect x="461.40" y="412.03" width="21.80" height="21.79" fill="#00b0ff"/>
<rect x="482.60" y="412.03" width="21.80" height="21.79" fill="#009cff"/>
<rect x="503.80" y="412.03" width="21.80" height="21.79" fill="#0094ff"/>
<rect x="313.00" y="433.22" width="21.80" height="21.79" fill="#ff9400"/>
<rect x="334.20" y="433.22" width="21.80" height="21.79" fill="#ceff29"/>
<rect x="355.40" y="433.22" width="21.80" height="21.79" fill="#7dff7a"/>
<rect x="376.60" y="433.22" width="21.80" height="21.79" fill="#19ffde"/>
<rect x="397.80" y="433.22" width="21.80" height="21.79" fill="#29ffce"/>
<rect x="419.00" y="433.22" width="21.80" height="21.79" fill="#1fffd7"/>
<rect x="440.20" y="433.22" width="21.80" height="21.79" fill="#00b0ff"/>
<rect x="461.40" y="433.22" width="21.80" height="21.79" fill="#0ff8e7"/>
<rect x="482.60" y="433.22" width="21.80" height="21.79" fill="#0080ff"/>
<rect x="503.80" y="433.22" width="21.80" height="21.79" fill="#00a8ff"/>
<rect x="313.00" y="454.41" width="21.80" height="21.79" fill="#ff5500"/>
<rect x="334.20" y="454.41" width="21.80" height="21.79" fill="#ffd700"/>
<rect x="355.40" y="454.41" width="21.80" height="21.79" fill="#a4ff53"/>
<rect x="376.60" y="454.41" width="21.80" height="21.79" fill="#39ffbe"/>
<rect x="397.80" y="454.41" width="21.80" height="21.79" fill="#29ffce"/>
<rect x="419.00" y="454.41" width="21.80" height="21.79" fill="#53ffa4"/>
<rect x="440.20" y="454.41" width="21.80" height="21.79" fill="#00bcff"/>
<rect x="461.40" y="454.41" width="21.80" height="21.79" fill="#00c4ff"/>
<rect x="482.60" y="454.41" width="21.80" height="21.79" fill="#0088ff"/>
<rect x="503.80" y="454.41" width="21.80" height="21.79" fill="#0088ff"/>
<rect x="525.00" y="263.70" width="21.80" height="21.79" fill="#0ff8e7"/>
<rect x="546.20" y="263.70" width="21.80" height="21.79" fill="#0088ff"/>
<rect x="567.40" y="263.70" width="21.80" height="21.79" fill="#00dcfe"/>
<rect x="588.60" y="263.70" width="21.80" height="21.79" fill="#0074ff"/>
<rect x="609.80" y="263.70" width="21.80" height="21.79" fill="#00d0ff"/>
<rect x="631.00" y="263.70" width="21.80" height="21.79" fill="#009cff"/>
<rect x="652.20" y="263.70" width="21.80" height="21.79" fill="#009cff"/>
<rect x="673.40" y="263.70" width="21.80" height="21.79" fill="#00b0ff"/>
<rect x="694.60" y="263.70" width="21.80" height="21.79" fill="#0088ff"/>
<rect x="715.80" y="263.70" width="21.80" height="21.79" fill="#0074ff"/>
<rect x="525.00" y="284.89" width="21.80" height="21.79" fill="#19ffde"/>
<rect x="546.20" y="284.89" width="21.80" height="21.79" fill="#00bcff"/>
<rect x="567.40" y="284.89" width="21.80" height="21.79" fill="#00a8ff"/>
<rect x="588.60" y="284.89" width="21.80" height="21.79" fill="#0080ff"/>
<rect x="609.80" y="284.89" width="21.80" height="21.79" fill="#39ffbe"/>
<rect x="631.00" y="284.89" width="21.80" height="21.79" fill="#00d0ff"/>
<rect x="652.20" y="284.89" width="21.80" height="21.79" fill="#00d0ff"/>
<rect x="673.40" y="284.89" width="21.80" height="21.79" fill="#00dcfe"/>
<rect x="694.60" y="284.89" width="21.80" height="21.79" fill="#00c4ff"/>
<rect x="715.80" y="284.89" width="21.80" height="21.79" fill="#00bcff"/>
<rect x="525.00" y="306.08" width="21.80" height="21.79" fill="#39ffbe"/>
<rect x="546.20" y="306.08" width="21.80" height="21.79" fill="#1fffd7"/>
<rect x="567.40" y="306.08" width="21.80" height="21.79" fill="#0074ff"/>
<rect x="588.60" y="306.08" width="21.80" height="21.79" fill="#00e4f8"/>
<rect x="609.80" y="306.08" width="21.80" height="21.79" fill="#43ffb4"/>
<rect x="631.00" y="306.08" width="21.80" height="21.79" fill="#00d0ff"/>
<rect x="652.20" y="306.08" width="21.80" height="21.79" fill="#00c4ff"/>
<rect x="673.40" y="306.08" width="21.80" height="21.79" fill="#1fffd7"/>
<rect x="694.60" y="306.08" width="21.80" height="21.79" fill="#00d0ff"/>
<rect x="715.80" y="306.08" width="21.80" height="21.79" fill="#00d0ff"/>
<rect x="525.00" y="327.27" width="21.80" height="21.79" fill="#9dff5a"/>
<rect x="546.20" y="327.27" width="21.80" height="21.79" fill="#09f0ee"/>
<rect x="567.40" y="327.27" width="21.80" height="21.79" fill="#00bcff"/>
<rect x="588.60" y="327.27" width="21.80" height="21.79" fill="#0ff8e7"/>
<rect x="609.80" y="327.27" width="21.80" height="21.79" fill="#30ffc7"/>
<rect x="631.00" y="327.27" width="21.80" height="21.79" fill="#00bcff"/>
<rect x="652.20" y="327.27" width="21.80" height="21.79" fill="#00bcff"/>
<rect x="673.40" y="327.27" width="21.80" height="21.79" fill="#00dcfe"/>
<rect x="694.60" y="327.27" width="21.80" height="21.79" fill="#00bcff"/>
<rect x="715.80" y="327.27" width="21.80" height="21.79" fill="#00bcff"/>
<rect x="525.00" y="348.46" width="21.80" height="21.79" fill="#adff49"/>
<rect x="546.20" y="348.46" width="21.80" height="21.79" fill="#63ff94"/>
<rect x="567.40" y="348.46" width="21.80" height="21.79" fill="#00bcff"/>
<rect x="588.60" y="348.46" width="21.80" height="21.79" fill="#39ffbe"/>
<rect x="609.80" y="348.46" width="21.80" height="21.79" fill="#39ffbe"/>
<rect x="631.00" y="348.46" width="21.80" height="21.79" fill="#29ffce"/>
<rect x="652.20" y="348.46" width="21.80" height="21.79" fill="#19ffde"/>
<rect x="673.40" y="348.46" width="21.80" height="21.79" fill="#00e4f8"/>
<rect x="694.60" y="348.46" width="21.80" height="21.79" fill="#1fffd7"/>
<rect x="715.80" y="348.46" width="21.80" height="21.79" fill="#00d0ff"/>
<rect x="525.00" y="369.65" width="21.80" height="21.79" fill="#63ff94"/>
<rect x="546.20" y="369.65" width="21.80" height="21.79" fill="#63ff94"/>
<rect x="567.40" y="369.65" width="21.80" height="21.79" fill="#30ffc7"/>
<rect x="588.60" y="369.65" width="21.80" height="21.79" fill="#49ffad"/>
<rect x="609.80" y="369.65" width="21.80" height="21.79" fill="#49ffad"/>
<rect x="631.00" y="369.65" width="21.80" height="21.79" fill="#0ff8e7"/>
<rect x="652.20" y="369.65" width="21.80" height="21.79" fill="#19ffde"/>
<rect x="673.40" y="369.65" width="21.80" height="21.79" fill="#00e4f8"/>
<rect x="694.60" y="369.65" width="21.80" height="21.79" fill="#09f0ee"/>
<rect x="715.80" y="369.65" width="21.80" height="21.79" fill="#0080ff"/>
<rect x="525.00" y="390.84" width="21.80" height="21.79" fill="#ceff29"/>
<rect x="546.20" y="390.84" width="21.80" height="21.79" fill="#7dff7a"/>
<rect x="567.40" y="390.84" width="21.80" height="21.79" fill="#63ff94"/>
<rect x="588.60" y="390.84" width="21.80" height="21.79" fill="#5aff9d"/>
<rect x="609.80" y="390.84" width="21.80" height="21.79" fill="#63ff94"/>
<rect x="631.00" y="390.84" width="21.80" height="21.79" fill="#30ffc7"/>
<rect x="652.20" y="390.84" width="21.80" height="21.79" fill="#29ffce"/>
<rect x="673.40" y="390.84" width="21.80" height="21.79" fill="#0ff8e7"/>
<rect x="694.60" y="390.84" width="21.80" height="21.79" fill="#00e4f8"/>
<rect x="715.80" y="390.84" width="21.80" height="21.79" fill="#00b0ff"/>
<rect x="525.00" y="412.03" width="21.80" height="21.79" fill="#eeff09"/>
<rect x="546.20" y="412.03" width="21.80" height="21.79" fill="#8dff6a"/>
<rect x="567.40" y="412.03" width="21.80" height="21.79" fill="#63ff94"/>
<rect x="588.60" y="412.03" width="21.80" height="21.79" fill="#7dff7a"/>
<rect x="609.80" y="412.03" width="21.80" height="21.79" fill="#73ff83"/>
<rect x="631.00" y="412.03" width="21.80" height="21.79" fill="#63ff94"/>
<rect x="652.20" y="412.03" width="21.80" height="21.79" fill="#53ffa4"/>
<rect x="673.40" y="412.03" width="21.80" height="21.79" fill="#53ffa4"/>
<rect x="694.60" y="412.03" width="21.80" height="21.79" fill="#0ff8e7"/>
<rect x="715.80" y="412.03" width="21.80" height="21.79" fill="#00a8ff"/>
<rect x="525.00" y="433.22" width="21.80" height="21.79" fill="#ff9400"/>
<rect x="546.20" y="433.22" width="21.80" height="21.79" fill="#d7ff1f"/>
<rect x="567.40" y="433.22" width="21.80" height="21.79" fill="#7dff7a"/>
<rect x="588.60" y="433.22" width="21.80" height="21.79" fill="#94ff63"/>
<rect x="609.80" y="433.22" width="21.80" height="21.79" fill="#83ff73"/>
<rect x="631.00" y="433.22" width="21.80" height="21.79" fill="#7dff7a"/>
<rect x="652.20" y="433.22" width="21.80" height="21.79" fill="#30ffc7"/>
<rect x="673.40" y="433.22" width="21.80" height="21.79" fill="#39ffbe"/>
<rect x="694.60" y="433.22" width="21.80" height="21.79" fill="#19ffde"/>
<rect x="715.80" y="433.22" width="21.80" height="21.79" fill="#00bcff"/>
<rect x="525.00" y="454.41" width="21.80" height="21.79" fill="#ff3800"/>
<rect x="546.20" y="454.41" width="21.80" height="21.79" fill="#ff9400"/>
<rect x="567.40" y="454.41" width="21.80" height="21.79" fill="#e7ff0f"/>
<rect x="588.60" y="454.41" width="21.80" height="21.79" fill="#9dff5a"/>
<rect x="609.80" y="454.41" width="21.80" height="21.79" fill="#94ff63"/>
<rect x="631.00" y="454.41" width="21.80" height="21.79" fill="#73ff83"/>
<rect x="652.20" y="454.41" width="21.80" height="21.79" fill="#53ffa4"/>
<rect x="673.40" y="454.41" width="21.80" height="21.79" fill="#39ffbe"/>
<rect x="694.60" y="454.41" width="21.80" height="21.79" fill="#19ffde"/>
<rect x="715.80" y="454.41" width="21.80" height="21.79" fill="#00e4f8"/>
<rect x="737.00" y="263.70" width="21.80" height="21.79" fill="#00b0ff"/>
<rect x="758.20" y="263.70" width="21.80" height="21.79" fill="#0020ff"/>
<rect x="779.40" y="263.70" width="21.80" height="21.79" fill="#0038ff"/>
<rect x="800.60" y="263.70" width="21.80" height="21.79" fill="#0004ff"/>
<rect x="821.80" y="263.70" width="21.80" height="21.79" fill="#0004ff"/>
<rect x="843.00" y="263.70" width="21.80" height="21.79" fill="#0000ff"/>
<rect x="864.20" y="263.70" width="21.80" height="21.79" fill="#0004ff"/>
<rect x="885.40" y="263.70" width="21.80" height="21.79" fill="#0000ff"/>
<rect x="906.60" y="263.70" width="21.80" height="21.79" fill="#0000f1"/>
<rect x="927.80" y="263.70" width="21.80" height="21.79" fill="#0000c4"/>
<rect x="737.00" y="284.89" width="21.80" height="21.79" fill="#009cff"/>
<rect x="758.20" y="284.89" width="21.80" height="21.79" fill="#0038ff"/>
<rect x="779.40" y="284.89" width="21.80" height="21.79" fill="#0040ff"/>
<rect x="800.60" y="284.89" width="21.80" height="21.79" fill="#0038ff"/>
<rect x="821.80" y="284.89" width="21.80" height="21.79" fill="#009cff"/>
<rect x="843.00" y="284.89" width="21.80" height="21.79" fill="#0040ff"/>
<rect x="864.20" y="284.89" width="21.80" height="21.79" fill="#0038ff"/>
<rect x="885.40" y="284.89" width="21.80" height="21.79" fill="#0074ff"/>
<rect x="906.60" y="284.89" width="21.80" height="21.79" fill="#0038ff"/>
<rect x="927.80" y="284.89" width="21.80" height="21.79" fill="#0020ff"/>
<rect x="737.00" y="306.08" width="21.80" height="21.79" fill="#09f0ee"/>
<rect x="758.20" y="306.08" width="21.80" height="21.79" fill="#0094ff"/>
<rect x="779.40" y="306.08" width="21.80" height="21.79" fill="#0038ff"/>
<rect x="800.60" y="306.08" width="21.80" height="21.79" fill="#0068ff"/>
<rect x="821.80" y="306.08" width="21.80" height="21.79" fill="#00a8ff"/>
<rect x="843.00" y="306.08" width="21.80" height="21.79" fill="#0068ff"/>
<rect x="864.20" y="306.08" width="21.80" height="21.79" fill="#0060ff"/>
<rect x="885.40" y="306.08" width="21.80" height="21.79" fill="#0094ff"/>
<rect x="906.60" y="306.08" width="21.80" height="21.79" fill="#0068ff"/>
<rect x="927.80" y="306.08" width="21.80" height="21.79" fill="#0040ff"/>
<rect x="737.00" y="327.27" width="21.80" height="21.79" fill="#39ffbe"/>
<rect x="758.20" y="327.27" width="21.80" height="21.79" fill="#0074ff"/>
<rect x="779.40" y="327.27" width="21.80" height="21.79" fill="#0054ff"/>
<rect x="800.60" y="327.27" width="21.80" height="21.79" fill="#0074ff"/>
<rect x="821.80" y="327.27" width="21.80" height="21.79" fill="#009cff"/>
<rect x="843.00" y="327.27" width="21.80" height="21.79" fill="#0000ff"/>
<rect x="864.20" y="327.27" width="21.80" height="21.79" fill="#0000ff"/>
<rect x="885.40" y="327.27" width="21.80" height="21.79" fill="#0060ff"/>
<rect x="906.60" y="327.27" width="21.80" height="21.79" fill="#0040ff"/>
<rect x="927.80" y="327.27" width="21.80" height="21.79" fill="#0018ff"/>
<rect x="737.00" y="348.46" width="21.80" height="21.79" fill="#7dff7a"/>
<rect x="758.20" y="348.46" width="21.80" height="21.79" fill="#1fffd7"/>
<rect x="779.40" y="348.46" width="21.80" height="21.79" fill="#0068ff"/>
<rect x="800.60" y="348.46" width="21.80" height="21.79" fill="#00c4ff"/>
<rect x="821.80" y="348.46" width="21.80" height="21.79" fill="#00a8ff"/>
<rect x="843.00" y="348.46" width="21.80" height="21.79" fill="#0068ff"/>
<rect x="864.20" y="348.46" width="21.80" height="21.79" fill="#0088ff"/>
<rect x="885.40" y="348.46" width="21.80" height="21.79" fill="#0074ff"/>
<rect x="906.60" y="348.46" width="21.80" height="21.79" fill="#0080ff"/>
<rect x="927.80" y="348.46" width="21.80" height="21.79" fill="#004cff"/>
<rect x="737.00" y="369.65" width="21.80" height="21.79" fill="#1fffd7"/>
<rect x="758.20" y="369.65" width="21.80" height="21.79" fill="#1fffd7"/>
<rect x="779.40" y="369.65" width="21.80" height="21.79" fill="#009cff"/>
<rect x="800.60" y="369.65" width="21.80" height="21.79" fill="#00c4ff"/>
<rect x="821.80" y="369.65" width="21.80" height="21.79" fill="#0080ff"/>
<rect x="843.00" y="369.65" width="21.80" height="21.79" fill="#0040ff"/>
<rect x="864.20" y="369.65" width="21.80" height="21.79" fill="#0074ff"/>
<rect x="885.40" y="369.65" width="21.80" height="21.79" fill="#0054ff"/>
<rect x="906.60" y="369.65" width="21.80" height="21.79" fill="#0020ff"/>
<rect x="927.80" y="369.65" width="21.80" height="21.79" fill="#0000e8"/>
<rect x="737.00" y="390.84" width="21.80" height="21.79" fill="#63ff94"/>
<rect x="758.20" y="390.84" width="21.80" height="21.79" fill="#09f0ee"/>
<rect x="779.40" y="390.84" width="21.80" height="21.79" fill="#00b0ff"/>
<rect x="800.60" y="390.84" width="21.80" height="21.79" fill="#00dcfe"/>
<rect x="821.80" y="390.84" width="21.80" height="21.79" fill="#00d0ff"/>
<rect x="843.00" y="390.84" width="21.80" height="21.79" fill="#0088ff"/>
<rect x="864.20" y="390.84" width="21.80" height="21.79" fill="#0038ff"/>
<rect x="885.40" y="390.84" width="21.80" height="21.79" fill="#0040ff"/>
<rect x="906.60" y="390.84" width="21.80" height="21.79" fill="#002cff"/>
<rect x="927.80" y="390.84" width="21.80" height="21.79" fill="#0000ff"/>
<rect x="737.00" y="412.03" width="21.80" height="21.79" fill="#b4ff43"/>
<rect x="758.20" y="412.03" width="21.80" height="21.79" fill="#39ffbe"/>
<rect x="779.40" y="412.03" width="21.80" height="21.79" fill="#00d0ff"/>
<rect x="800.60" y="412.03" width="21.80" height="21.79" fill="#1fffd7"/>
<rect x="821.80" y="412.03" width="21.80" height="21.79" fill="#19ffde"/>
<rect x="843.00" y="412.03" width="21.80" height="21.79" fill="#00a8ff"/>
<rect x="864.20" y="412.03" width="21.80" height="21.79" fill="#009cff"/>
<rect x="885.40" y="412.03" width="21.80" height="21.79" fill="#009cff"/>
<rect x="906.60" y="412.03" width="21.80" height="21.79" fill="#0054ff"/>
<rect x="927.80" y="412.03" width="21.80" height="21.79" fill="#0038ff"/>
<rect x="737.00" y="433.22" width="21.80" height="21.79" fill="#ff9400"/>
<rect x="758.20" y="433.22" width="21.80" height="21.79" fill="#7dff7a"/>
<rect x="779.40" y="433.22" width="21.80" height="21.79" fill="#0ff8e7"/>
<rect x="800.60" y="433.22" width="21.80" height="21.79" fill="#1fffd7"/>
<rect x="821.80" y="433.22" width="21.80" height="21.79" fill="#00dcfe"/>
<rect x="843.00" y="433.22" width="21.80" height="21.79" fill="#00e4f8"/>
<rect x="864.20" y="433.22" width="21.80" height="21.79" fill="#0094ff"/>
<rect x="885.40" y="433.22" width="21.80" height="21.79" fill="#00a8ff"/>
<rect x="906.60" y="433.22" width="21.80" height="21.79" fill="#0060ff"/>
<rect x="927.80" y="433.22" width="21.80" height="21.79" fill="#0040ff"/>
<rect x="737.00" y="454.41" width="21.80" height="21.79" fill="#ff7a00"/>
<rect x="758.20" y="454.41" width="21.80" height="21.79" fill="#f8f500"/>
<rect x="779.40" y="454.41" width="21.80" height="21.79" fill="#8dff6a"/>
<rect x="800.60" y="454.41" width="21.80" height="21.79" fill="#29ffce"/>
<rect x="821.80" y="454.41" width="21.80" height="21.79" fill="#39ffbe"/>
<rect x="843.00" y="454.41" width="21.80" height="21.79" fill="#00c4ff"/>
<rect x="864.20" y="454.41" width="21.80" height="21.79" fill="#009cff"/>
<rect x="885.40" y="454.41" width="21.80" height="21.79" fill="#00c4ff"/>
<rect x="906.60" y="454.41" width="21.80" height="21.79" fill="#0074ff"/>
<rect x="927.80" y="454.41" width="21.80" height="21.79" fill="#0080ff"/>
<rect x="101.00" y="475.60" width="21.80" height="21.79" fill="#00b0ff"/>
<rect x="122.20" y="475.60" width="21.80" height="21.79" fill="#0094ff"/>
<rect x="143.40" y="475.60" width="21.80" height="21.79" fill="#0074ff"/>
<rect x="164.60" y="475.60" width="21.80" height="21.79" fill="#0074ff"/>
<rect x="185.80" y="475.60" width="21.80" height="21.79" fill="#00b0ff"/>
<rect x="207.00" y="475.60" width="21.80" height="21.79" fill="#009cff"/>
<rect x="228.20" y="475.60" width="21.80" height="21.79" fill="#0020ff"/>
<rect x="249.40" y="475.60" width="21.80" height="21.79" fill="#0094ff"/>
<rect x="270.60" y="475.60" width="21.80" height="21.79" fill="#0094ff"/>
<rect x="291.80" y="475.60" width="21.80" height="21.79" fill="#0074ff"/>
<rect x="101.00" y="496.79" width="21.80" height="21.79" fill="#0ff8e7"/>
<rect x="122.20" y="496.79" width="21.80" height="21.79" fill="#009cff"/>
<rect x="143.40" y="496.79" width="21.80" height="21.79" fill="#00a8ff"/>
<rect x="164.60" y="496.79" width="21.80" height="21.79" fill="#0094ff"/>
<rect x="185.80" y="496.79" width="21.80" height="21.79" fill="#00b0ff"/>
<rect x="207.00" y="496.79" width="21.80" height="21.79" fill="#009cff"/>
<rect x="228.20" y="496.79" width="21.80" height="21.79" fill="#0060ff"/>
<rect x="249.40" y="496.79" width="21.80" height="21.79" fill="#0088ff"/>
<rect x="270.60" y="496.79" width="21.80" height="21.79" fill="#0088ff"/>
<rect x="291.80" y="496.79" width="21.80" height="21.79" fill="#0080ff"/>
<rect x="101.00" y="517.98" width="21.80" height="21.79" fill="#73ff83"/>
<rect x="122.20" y="517.98" width="21.80" height="21.79" fill="#00e4f8"/>
<rect x="143.40" y="517.98" width="21.80" height="21.79" fill="#0080ff"/>
<rect x="164.60" y="517.98" width="21.80" height="21.79" fill="#00c4ff"/>
<rect x="185.80" y="517.98" width="21.80" height="21.79" fill="#00d0ff"/>
<rect x="207.00" y="517.98" width="21.80" height="21.79" fill="#00d0ff"/>
<rect x="228.20" y="517.98" width="21.80" height="21.79" fill="#00a8ff"/>
<rect x="249.40" y="517.98" width="21.80" height="21.79" fill="#00d0ff"/>
<rect x="270.60" y="517.98" width="21.80" height="21.79" fill="#00bcff"/>
<rect x="291.80" y="517.98" width="21.80" height="21.79" fill="#00a8ff"/>
<rect x="101.00" y="539.17" width="21.80" height="21.79" fill="#39ffbe"/>
<rect x="122.20" y="539.17" width="21.80" height="21.79" fill="#00e4f8"/>
<rect x="143.40" y="539.17" width="21.80" height="21.79" fill="#00b0ff"/>
<rect x="164.60" y="539.17" width="21.80" height="21.79" fill="#19ffde"/>
<rect x="185.80" y="539.17" width="21.80" height="21.79" fill="#09f0ee"/>
<rect x="207.00" y="539.17" width="21.80" height="21.79" fill="#00d0ff"/>
<rect x="228.20" y="539.17" width="21.80" height="21.79" fill="#0088ff"/>
<rect x="249.40" y="539.17" width="21.80" height="21.79" fill="#0088ff"/>
<rect x="270.60" y="539.17" width="21.80" height="21.79" fill="#00bcff"/>
<rect x="291.80" y="539.17" width="21.80" height="21.79" fill="#009cff"/>
<rect x="101.00" y="560.36" width="21.80" height="21.79" fill="#7dff7a"/>
<rect x="122.20" y="560.36" width="21.80" height="21.79" fill="#5aff9d"/>
<rect x="143.40" y="560.36" width="21.80" height="21.79" fill="#00d0ff"/>
<rect x="164.60" y="560.36" width="21.80" height="21.79" fill="#19ffde"/>
<rect x="185.80" y="560.36" width="21.80" height="21.79" fill="#00d0ff"/>
<rect x="207.00" y="560.36" width="21.80" height="21.79" fill="#00d0ff"/>
<rect x="228.20" y="560.36" width="21.80" height="21.79" fill="#0088ff"/>
<rect x="249.40" y="560.36" width="21.80" height="21.79" fill="#0094ff"/>
<rect x="270.60" y="560.36" width="21.80" height="21.79" fill="#0094ff"/>
<rect x="291.80" y="560.36" width="21.80" height="21.79" fill="#0094ff"/>
<rect x="101.00" y="581.55" width="21.80" height="21.79" fill="#beff39"/>
<rect x="122.20" y="581.55" width="21.80" height="21.79" fill="#43ffb4"/>
<rect x="143.40" y="581.55" width="21.80" height="21.79" fill="#09f0ee"/>
<rect x="164.60" y="581.55" width="21.80" height="21.79" fill="#19ffde"/>
<rect x="185.80" y="581.55" width="21.80" height="21.79" fill="#39ffbe"/>
<rect x="207.00" y="581.55" width="21.80" height="21.79" fill="#09f0ee"/>
<rect x="228.20" y="581.55" width="21.80" height="21.79" fill="#00c4ff"/>
<rect x="249.40" y="581.55" width="21.80" height="21.79" fill="#00dcfe"/>
<rect x="270.60" y="581.55" width="21.80" height="21.79" fill="#00c4ff"/>
<rect x="291.80" y="581.55" width="21.80" height="21.79" fill="#00a8ff"/>
<rect x="101.00" y="602.74" width="21.80" height="21.79" fill="#8dff6a"/>
<rect x="122.20" y="602.74" width="21.80" height="21.79" fill="#29ffce"/>
<rect x="143.40" y="602.74" width="21.80" height="21.79" fill="#7dff7a"/>
<rect x="164.60" y="602.74" width="21.80" height="21.79" fill="#49ffad"/>
<rect x="185.80" y="602.74" width="21.80" height="21.79" fill="#53ffa4"/>
<rect x="207.00" y="602.74" width="21.80" height="21.79" fill="#00d0ff"/>
<rect x="228.20" y="602.74" width="21.80" height="21.79" fill="#0094ff"/>
<rect x="249.40" y="602.74" width="21.80" height="21.79" fill="#0080ff"/>
<rect x="270.60" y="602.74" width="21.80" height="21.79" fill="#0080ff"/>
<rect x="291.80" y="602.74" width="21.80" height="21.79" fill="#0060ff"/>
<rect x="101.00" y="623.93" width="21.80" height="21.79" fill="#f8f500"/>
<rect x="122.20" y="623.93" width="21.80" height="21.79" fill="#83ff73"/>
<rect x="143.40" y="623.93" width="21.80" height="21.79" fill="#63ff94"/>
<rect x="164.60" y="623.93" width="21.80" height="21.79" fill="#6aff8d"/>
<rect x="185.80" y="623.93" width="21.80" height="21.79" fill="#6aff8d"/>
<rect x="207.00" y="623.93" width="21.80" height="21.79" fill="#0ff8e7"/>
<rect x="228.20" y="623.93" width="21.80" height="21.79" fill="#0094ff"/>
<rect x="249.40" y="623.93" width="21.80" height="21.79" fill="#0094ff"/>
<rect x="270.60" y="623.93" width="21.80" height="21.79" fill="#009cff"/>
<rect x="291.80" y="623.93" width="21.80" height="21.79" fill="#0088ff"/>
<rect x="101.00" y="645.12" width="21.80" height="21.79" fill="#ffb200"/>
<rect x="122.20" y="645.12" width="21.80" height="21.79" fill="#ceff29"/>
<rect x="143.40" y="645.12" width="21.80" height="21.79" fill="#73ff83"/>
<rect x="164.60" y="645.12" width="21.80" height="21.79" fill="#83ff73"/>
<rect x="185.80" y="645.12" width="21.80" height="21.79" fill="#83ff73"/>
<rect x="207.00" y="645.12" width="21.80" height="21.79" fill="#1fffd7"/>
<rect x="228.20" y="645.12" width="21.80" height="21.79" fill="#00bcff"/>
<rect x="249.40" y="645.12" width="21.80" height="21.79" fill="#00c4ff"/>
<rect x="270.60" y="645.12" width="21.80" height="21.79" fill="#009cff"/>
<rect x="291.80" y="645.12" width="21.80" height="21.79" fill="#0088ff"/>
<rect x="101.00" y="666.31" width="21.80" height="21.79" fill="#ff6800"/>
<rect x="122.20" y="666.31" width="21.80" height="21.79" fill="#ffd700"/>
<rect x="143.40" y="666.31" width="21.80" height="21.79" fill="#a4ff53"/>
<rect x="164.60" y="666.31" width="21.80" height="21.79" fill="#9dff5a"/>
<rect x="185.80" y="666.31" width="21.80" height="21.79" fill="#7dff7a"/>
<rect x="207.00" y="666.31" width="21.80" height="21.79" fill="#53ffa4"/>
<rect x="228.20" y="666.31" width="21.80" height="21.79" fill="#39ffbe"/>
<rect x="249.40" y="666.31" width="21.80" height="21.79" fill="#29ffce"/>
<rect x="270.60" y="666.31" width="21.80" height="21.79" fill="#00bcff"/>
<rect x="291.80" y="666.31" width="21.80" height="21.79" fill="#00dcfe"/>
<rect x="313.00" y="475.60" width="21.80" height="21.79" fill="#0074ff"/>
<rect x="334.20" y="475.60" width="21.80" height="21.79" fill="#004cff"/>
<rect x="355.40" y="475.60" width="21.80" height="21.79" fill="#000cff"/>
<rect x="376.60" y="475.60" width="21.80" height="21.79" fill="#0004ff"/>
<rect x="397.80" y="475.60" width="21.80" height="21.79" fill="#0000ff"/>
<rect x="419.00" y="475.60" width="21.80" height="21.79" fill="#0018ff"/>
<rect x="440.20" y="475.60" width="21.80" height="21.79" fill="#00009f"/>
<rect x="461.40" y="475.60" width="21.80" height="21.79" fill="#0000ff"/>
<rect x="482.60" y="475.60" width="21.80" height="21.79" fill="#0000ff"/>
<rect x="503.80" y="475.60" width="21.80" height="21.79" fill="#0000f1"/>
<rect x="313.00" y="496.79" width="21.80" height="21.79" fill="#0094ff"/>
<rect x="334.20" y="496.79" width="21.80" height="21.79" fill="#0000f1"/>
<rect x="355.40" y="496.79" width="21.80" height="21.79" fill="#0018ff"/>
<rect x="376.60" y="496.79" width="21.80" height="21.79" fill="#0000ff"/>
<rect x="397.80" y="496.79" width="21.80" height="21.79" fill="#0000ff"/>
<rect x="419.00" y="496.79" width="21.80" height="21.79" fill="#0000f1"/>
<rect x="440.20" y="496.79" width="21.80" height="21.79" fill="#00009f"/>
<rect x="461.40" y="496.79" width="21.80" height="21.79" fill="#0000c4"/>
<rect x="482.60" y="496.79" width="21.80" height="21.79" fill="#0000c4"/>
<rect x="503.80" y="496.79" width="21.80" height="21.79" fill="#0000c4"/>
<rect x="313.00" y="517.98" width="21.80" height="21.79" fill="#49ffad"/>
<rect x="334.20" y="517.98" width="21.80" height="21.79" fill="#009cff"/>
<rect x="355.40" y="517.98" width="21.80" height="21.79" fill="#0020ff"/>
<rect x="376.60" y="517.98" width="21.80" height="21.79" fill="#0060ff"/>
<rect x="397.80" y="517.98" width="21.80" height="21.79" fill="#0068ff"/>
<rect x="419.00" y="517.98" width="21.80" height="21.79" fill="#0038ff"/>
<rect x="440.20" y="517.98" width="21.80" height="21.79" fill="#000cff"/>
<rect x="461.40" y="517.98" width="21.80" height="21.79" fill="#0054ff"/>
<rect x="482.60" y="517.98" width="21.80" height="21.79" fill="#004cff"/>
<rect x="503.80" y="517.98" width="21.80" height="21.79" fill="#002cff"/>
<rect x="313.00" y="539.17" width="21.80" height="21.79" fill="#0ff8e7"/>
<rect x="334.20" y="539.17" width="21.80" height="21.79" fill="#0080ff"/>
<rect x="355.40" y="539.17" width="21.80" height="21.79" fill="#004cff"/>
<rect x="376.60" y="539.17" width="21.80" height="21.79" fill="#0094ff"/>
<rect x="397.80" y="539.17" width="21.80" height="21.79" fill="#0094ff"/>
<rect x="419.00" y="539.17" width="21.80" height="21.79" fill="#0060ff"/>
<rect x="440.20" y="539.17" width="21.80" height="21.79" fill="#0038ff"/>
<rect x="461.40" y="539.17" width="21.80" height="21.79" fill="#0038ff"/>
<rect x="482.60" y="539.17" width="21.80" height="21.79" fill="#0038ff"/>
<rect x="503.80" y="539.17" width="21.80" height="21.79" fill="#0038ff"/>
<rect x="313.00" y="560.36" width="21.80" height="21.79" fill="#39ffbe"/>
<rect x="334.20" y="560.36" width="21.80" height="21.79" fill="#0ff8e7"/>
<rect x="355.40" y="560.36" width="21.80" height="21.79" fill="#0068ff"/>
<rect x="376.60" y="560.36" width="21.80" height="21.79" fill="#00b0ff"/>
<rect x="397.80" y="560.36" width="21.80" height="21.79" fill="#0054ff"/>
<rect x="419.00" y="560.36" width="21.80" height="21.79" fill="#0054ff"/>
<rect x="440.20" y="560.36" width="21.80" height="21.79" fill="#0000ff"/>
<rect x="461.40" y="560.36" width="21.80" height="21.79" fill="#0018ff"/>
<rect x="482.60" y="560.36" width="21.80" height="21.79" fill="#002cff"/>
<rect x="503.80" y="560.36" width="21.80" height="21.79" fill="#0018ff"/>
<rect x="313.00" y="581.55" width="21.80" height="21.79" fill="#83ff73"/>
<rect x="334.20" y="581.55" width="21.80" height="21.79" fill="#00bcff"/>
<rect x="355.40" y="581.55" width="21.80" height="21.79" fill="#0060ff"/>
<rect x="376.60" y="581.55" width="21.80" height="21.79" fill="#0060ff"/>
<rect x="397.80" y="581.55" width="21.80" height="21.79" fill="#0088ff"/>
<rect x="419.00" y="581.55" width="21.80" height="21.79" fill="#0054ff"/>
<rect x="440.20" y="581.55" width="21.80" height="21.79" fill="#0004ff"/>
<rect x="461.40" y="581.55" width="21.80" height="21.79" fill="#0020ff"/>
<rect x="482.60" y="581.55" width="21.80" height="21.79" fill="#004cff"/>
<rect x="503.80" y="581.55" width="21.80" height="21.79" fill="#000cff"/>
<rect x="313.00" y="602.74" width="21.80" height="21.79" fill="#49ffad"/>
<rect x="334.20" y="602.74" width="21.80" height="21.79" fill="#009cff"/>
<rect x="355.40" y="602.74" width="21.80" height="21.79" fill="#00dcfe"/>
<rect x="376.60" y="602.74" width="21.80" height="21.79" fill="#00dcfe"/>
<rect x="397.80" y="602.74" width="21.80" height="21.79" fill="#0080ff"/>
<rect x="419.00" y="602.74" width="21.80" height="21.79" fill="#004cff"/>
<rect x="440.20" y="602.74" width="21.80" height="21.79" fill="#0018ff"/>
<rect x="461.40" y="602.74" width="21.80" height="21.79" fill="#0000ff"/>
<rect x="482.60" y="602.74" width="21.80" height="21.79" fill="#0000ff"/>
<rect x="503.80" y="602.74" width="21.80" height="21.79" fill="#0000f1"/>
<rect x="313.00" y="623.93" width="21.80" height="21.79" fill="#ceff29"/>
<rect x="334.20" y="623.93" width="21.80" height="21.79" fill="#39ffbe"/>
<rect x="355.40" y="623.93" width="21.80" height="21.79" fill="#00c4ff"/>
<rect x="376.60" y="623.93" width="21.80" height="21.79" fill="#00dcfe"/>
<rect x="397.80" y="623.93" width="21.80" height="21.79" fill="#00dcfe"/>
<rect x="419.00" y="623.93" width="21.80" height="21.79" fill="#0060ff"/>
<rect x="440.20" y="623.93" width="21.80" height="21.79" fill="#002cff"/>
<rect x="461.40" y="623.93" width="21.80" height="21.79" fill="#0004ff"/>
<rect x="482.60" y="623.93" width="21.80" height="21.79" fill="#0020ff"/>
<rect x="503.80" y="623.93" width="21.80" height="21.79" fill="#000cff"/>
<rect x="313.00" y="645.12" width="21.80" height="21.79" fill="#e7ff0f"/>
<rect x="334.20" y="645.12" width="21.80" height="21.79" fill="#53ffa4"/>
<rect x="355.40" y="645.12" width="21.80" height="21.79" fill="#19ffde"/>
<rect x="376.60" y="645.12" width="21.80" height="21.79" fill="#00d0ff"/>
<rect x="397.80" y="645.12" width="21.80" height="21.79" fill="#19ffde"/>
<rect x="419.00" y="645.12" width="21.80" height="21.79" fill="#0080ff"/>
<rect x="440.20" y="645.12" width="21.80" height="21.79" fill="#0020ff"/>
<rect x="461.40" y="645.12" width="21.80" height="21.79" fill="#0018ff"/>
<rect x="482.60" y="645.12" width="21.80" height="21.79" fill="#0004ff"/>
<rect x="503.80" y="645.12" width="21.80" height="21.79" fill="#0000f1"/>
<rect x="313.00" y="666.31" width="21.80" height="21.79" fill="#ff9400"/>
<rect x="334.20" y="666.31" width="21.80" height="21.79" fill="#ceff29"/>
<rect x="355.40" y="666.31" width="21.80" height="21.79" fill="#49ffad"/>
<rect x="376.60" y="666.31" width="21.80" height="21.79" fill="#29ffce"/>
<rect x="397.80" y="666.31" width="21.80" height="21.79" fill="#00dcfe"/>
<rect x="419.00" y="666.31" width="21.80" height="21.79" fill="#00b0ff"/>
<rect x="440.20" y="666.31" width="21.80" height="21.79" fill="#0094ff"/>
<rect x="461.40" y="666.31" width="21.80" height="21.79" fill="#0094ff"/>
<rect x="482.60" y="666.31" width="21.80" height="21.79" fill="#0068ff"/>
<rect x="503.80" y="666.31" width="21.80" height="21.79" fill="#0074ff"/>
<rect x="525.00" y="475.60" width="21.80" height="21.79" fill="#00d0ff"/>
<rect x="546.20" y="475.60" width="21.80" height="21.79" fill="#0094ff"/>
<rect x="567.40" y="475.60" width="21.80" height="21.79" fill="#0094ff"/>
<rect x="588.60" y="475.60" width="21.80" height="21.79" fill="#0060ff"/>
<rect x="609.80" y="475.60" width="21.80" height="21.79" fill="#00bcff"/>
<rect x="631.00" y="475.60" width="21.80" height="21.79" fill="#0074ff"/>
<rect x="652.20" y="475.60" width="21.80" height="21.79" fill="#0074ff"/>
<rect x="673.40" y="475.60" width="21.80" height="21.79" fill="#0060ff"/>
<rect x="694.60" y="475.60" width="21.80" height="21.79" fill="#0074ff"/>
<rect x="715.80" y="475.60" width="21.80" height="21.79" fill="#0060ff"/>
<rect x="525.00" y="496.79" width="21.80" height="21.79" fill="#00bcff"/>
<rect x="546.20" y="496.79" width="21.80" height="21.79" fill="#00e4f8"/>
<rect x="567.40" y="496.79" width="21.80" height="21.79" fill="#00a8ff"/>
<rect x="588.60" y="496.79" width="21.80" height="21.79" fill="#0080ff"/>
<rect x="609.80" y="496.79" width="21.80" height="21.79" fill="#00dcfe"/>
<rect x="631.00" y="496.79" width="21.80" height="21.79" fill="#0080ff"/>
<rect x="652.20" y="496.79" width="21.80" height="21.79" fill="#0068ff"/>
<rect x="673.40" y="496.79" width="21.80" height="21.79" fill="#0068ff"/>
<rect x="694.60" y="496.79" width="21.80" height="21.79" fill="#0074ff"/>
<rect x="715.80" y="496.79" width="21.80" height="21.79" fill="#0074ff"/>
<rect x="525.00" y="517.98" width="21.80" height="21.79" fill="#1fffd7"/>
<rect x="546.20" y="517.98" width="21.80" height="21.79" fill="#0ff8e7"/>
<rect x="567.40" y="517.98" width="21.80" height="21.79" fill="#009cff"/>
<rect x="588.60" y="517.98" width="21.80" height="21.79" fill="#0074ff"/>
<rect x="609.80" y="517.98" width="21.80" height="21.79" fill="#00b0ff"/>
<rect x="631.00" y="517.98" width="21.80" height="21.79" fill="#00bcff"/>
<rect x="652.20" y="517.98" width="21.80" height="21.79" fill="#0094ff"/>
<rect x="673.40" y="517.98" width="21.80" height="21.79" fill="#0088ff"/>
<rect x="694.60" y="517.98" width="21.80" height="21.79" fill="#00a8ff"/>
<rect x="715.80" y="517.98" width="21.80" height="21.79" fill="#0068ff"/>
<rect x="525.00" y="539.17" width="21.80" height="21.79" fill="#73ff83"/>
<rect x="546.20" y="539.17" width="21.80" height="21.79" fill="#19ffde"/>
<rect x="567.40" y="539.17" width="21.80" height="21.79" fill="#00c4ff"/>
<rect x="588.60" y="539.17" width="21.80" height="21.79" fill="#00bcff"/>
<rect x="609.80" y="539.17" width="21.80" height="21.79" fill="#00c4ff"/>
<rect x="631.00" y="539.17" width="21.80" height="21.79" fill="#00a8ff"/>
<rect x="652.20" y="539.17" width="21.80" height="21.79" fill="#00c4ff"/>
<rect x="673.40" y="539.17" width="21.80" height="21.79" fill="#0068ff"/>
<rect x="694.60" y="539.17" width="21.80" height="21.79" fill="#0094ff"/>
<rect x="715.80" y="539.17" width="21.80" height="21.79" fill="#0094ff"/>
<rect x="525.00" y="560.36" width="21.80" height="21.79" fill="#63ff94"/>
<rect x="546.20" y="560.36" width="21.80" height="21.79" fill="#39ffbe"/>
<rect x="567.40" y="560.36" width="21.80" height="21.79" fill="#19ffde"/>
<rect x="588.60" y="560.36" width="21.80" height="21.79" fill="#00c4ff"/>
<rect x="609.80" y="560.36" width="21.80" height="21.79" fill="#00c4ff"/>
<rect x="631.00" y="560.36" width="21.80" height="21.79" fill="#00c4ff"/>
<rect x="652.20" y="560.36" width="21.80" height="21.79" fill="#0080ff"/>
<rect x="673.40" y="560.36" width="21.80" height="21.79" fill="#0080ff"/>
<rect x="694.60" y="560.36" width="21.80" height="21.79" fill="#0080ff"/>
<rect x="715.80" y="560.36" width="21.80" height="21.79" fill="#0060ff"/>
<rect x="525.00" y="581.55" width="21.80" height="21.79" fill="#adff49"/>
<rect x="546.20" y="581.55" width="21.80" height="21.79" fill="#5aff9d"/>
<rect x="567.40" y="581.55" width="21.80" height="21.79" fill="#30ffc7"/>
<rect x="588.60" y="581.55" width="21.80" height="21.79" fill="#19ffde"/>
<rect x="609.80" y="581.55" width="21.80" height="21.79" fill="#00e4f8"/>
<rect x="631.00" y="581.55" width="21.80" height="21.79" fill="#00d0ff"/>
<rect x="652.20" y="581.55" width="21.80" height="21.79" fill="#00bcff"/>
<rect x="673.40" y="581.55" width="21.80" height="21.79" fill="#0080ff"/>
<rect x="694.60" y="581.55" width="21.80" height="21.79" fill="#00b0ff"/>
<rect x="715.80" y="581.55" width="21.80" height="21.79" fill="#0080ff"/>
<rect x="525.00" y="602.74" width="21.80" height="21.79" fill="#adff49"/>
<rect x="546.20" y="602.74" width="21.80" height="21.79" fill="#53ffa4"/>
<rect x="567.40" y="602.74" width="21.80" height="21.79" fill="#39ffbe"/>
<rect x="588.60" y="602.74" width="21.80" height="21.79" fill="#19ffde"/>
<rect x="609.80" y="602.74" width="21.80" height="21.79" fill="#09f0ee"/>
<rect x="631.00" y="602.74" width="21.80" height="21.79" fill="#00dcfe"/>
<rect x="652.20" y="602.74" width="21.80" height="21.79" fill="#0094ff"/>
<rect x="673.40" y="602.74" width="21.80" height="21.79" fill="#0088ff"/>
<rect x="694.60" y="602.74" width="21.80" height="21.79" fill="#0074ff"/>
<rect x="715.80" y="602.74" width="21.80" height="21.79" fill="#004cff"/>
<rect x="525.00" y="623.93" width="21.80" height="21.79" fill="#f8f500"/>
<rect x="546.20" y="623.93" width="21.80" height="21.79" fill="#adff49"/>
<rect x="567.40" y="623.93" width="21.80" height="21.79" fill="#94ff63"/>
<rect x="588.60" y="623.93" width="21.80" height="21.79" fill="#6aff8d"/>
<rect x="609.80" y="623.93" width="21.80" height="21.79" fill="#43ffb4"/>
<rect x="631.00" y="623.93" width="21.80" height="21.79" fill="#0ff8e7"/>
<rect x="652.20" y="623.93" width="21.80" height="21.79" fill="#00e4f8"/>
<rect x="673.40" y="623.93" width="21.80" height="21.79" fill="#00a8ff"/>
<rect x="694.60" y="623.93" width="21.80" height="21.79" fill="#00b0ff"/>
<rect x="715.80" y="623.93" width="21.80" height="21.79" fill="#0080ff"/>
<rect x="525.00" y="645.12" width="21.80" height="21.79" fill="#c7ff30"/>
<rect x="546.20" y="645.12" width="21.80" height="21.79" fill="#e7ff0f"/>
<rect x="567.40" y="645.12" width="21.80" height="21.79" fill="#9dff5a"/>
<rect x="588.60" y="645.12" width="21.80" height="21.79" fill="#63ff94"/>
<rect x="609.80" y="645.12" width="21.80" height="21.79" fill="#49ffad"/>
<rect x="631.00" y="645.12" width="21.80" height="21.79" fill="#29ffce"/>
<rect x="652.20" y="645.12" width="21.80" height="21.79" fill="#00e4f8"/>
<rect x="673.40" y="645.12" width="21.80" height="21.79" fill="#00bcff"/>
<rect x="694.60" y="645.12" width="21.80" height="21.79" fill="#00b0ff"/>
<rect x="715.80" y="645.12" width="21.80" height="21.79" fill="#0080ff"/>
<rect x="525.00" y="666.31" width="21.80" height="21.79" fill="#ff5d00"/>
<rect x="546.20" y="666.31" width="21.80" height="21.79" fill="#feed00"/>
<rect x="567.40" y="666.31" width="21.80" height="21.79" fill="#9dff5a"/>
<rect x="588.60" y="666.31" width="21.80" height="21.79" fill="#63ff94"/>
<rect x="609.80" y="666.31" width="21.80" height="21.79" fill="#53ffa4"/>
<rect x="631.00" y="666.31" width="21.80" height="21.79" fill="#30ffc7"/>
<rect x="652.20" y="666.31" width="21.80" height="21.79" fill="#30ffc7"/>
<rect x="673.40" y="666.31" width="21.80" height="21.79" fill="#00c4ff"/>
<rect x="694.60" y="666.31" width="21.80" height="21.79" fill="#00b0ff"/>
<rect x="715.80" y="666.31" width="21.80" height="21.79" fill="#00a8ff"/>
<rect x="737.00" y="475.60" width="21.80" height="21.79" fill="#0080ff"/>
<rect x="758.20" y="475.60" width="21.80" height="21.79" fill="#0018ff"/>
<rect x="779.40" y="475.60" width="21.80" height="21.79" fill="#0004ff"/>
<rect x="800.60" y="475.60" width="21.80" height="21.79" fill="#0000da"/>
<rect x="821.80" y="475.60" width="21.80" height="21.79" fill="#0004ff"/>
<rect x="843.00" y="475.60" width="21.80" height="21.79" fill="#0000f1"/>
<rect x="864.20" y="475.60" width="21.80" height="21.79" fill="#0000da"/>
<rect x="885.40" y="475.60" width="21.80" height="21.79" fill="#0000c4"/>
<rect x="906.60" y="475.60" width="21.80" height="21.79" fill="#0000da"/>
<rect x="927.80" y="475.60" width="21.80" height="21.79" fill="#000089"/>
<rect x="737.00" y="496.79" width="21.80" height="21.79" fill="#00c4ff"/>
<rect x="758.20" y="496.79" width="21.80" height="21.79" fill="#0080ff"/>
<rect x="779.40" y="496.79" width="21.80" height="21.79" fill="#004cff"/>
<rect x="800.60" y="496.79" width="21.80" height="21.79" fill="#0000ff"/>
<rect x="821.80" y="496.79" width="21.80" height="21.79" fill="#0004ff"/>
<rect x="843.00" y="496.79" width="21.80" height="21.79" fill="#0000ff"/>
<rect x="864.20" y="496.79" width="21.80" height="21.79" fill="#0000da"/>
<rect x="885.40" y="496.79" width="21.80" height="21.79" fill="#0000ff"/>
<rect x="906.60" y="496.79" width="21.80" height="21.79" fill="#0000da"/>
<rect x="927.80" y="496.79" width="21.80" height="21.79" fill="#0000e8"/>
<rect x="737.00" y="517.98" width="21.80" height="21.79" fill="#00e4f8"/>
<rect x="758.20" y="517.98" width="21.80" height="21.79" fill="#0080ff"/>
<rect x="779.40" y="517.98" width="21.80" height="21.79" fill="#002cff"/>
<rect x="800.60" y="517.98" width="21.80" height="21.79" fill="#0000ff"/>
<rect x="821.80" y="517.98" width="21.80" height="21.79" fill="#0020ff"/>
<rect x="843.00" y="517.98" width="21.80" height="21.79" fill="#0004ff"/>
<rect x="864.20" y="517.98" width="21.80" height="21.79" fill="#0004ff"/>
<rect x="885.40" y="517.98" width="21.80" height="21.79" fill="#0000ff"/>
<rect x="906.60" y="517.98" width="21.80" height="21.79" fill="#0000ff"/>
<rect x="927.80" y="517.98" width="21.80" height="21.79" fill="#0000c4"/>
<rect x="737.00" y="539.17" width="21.80" height="21.79" fill="#53ffa4"/>
<rect x="758.20" y="539.17" width="21.80" height="21.79" fill="#0080ff"/>
<rect x="779.40" y="539.17" width="21.80" height="21.79" fill="#0040ff"/>
<rect x="800.60" y="539.17" width="21.80" height="21.79" fill="#0018ff"/>
<rect x="821.80" y="539.17" width="21.80" height="21.79" fill="#0018ff"/>
<rect x="843.00" y="539.17" width="21.80" height="21.79" fill="#0000ff"/>
<rect x="864.20" y="539.17" width="21.80" height="21.79" fill="#0068ff"/>
<rect x="885.40" y="539.17" width="21.80" height="21.79" fill="#0000ff"/>
<rect x="906.60" y="539.17" width="21.80" height="21.79" fill="#0000ff"/>
<rect x="927.80" y="539.17" width="21.80" height="21.79" fill="#0000ff"/>
<rect x="737.00" y="560.36" width="21.80" height="21.79" fill="#0ff8e7"/>
<rect x="758.20" y="560.36" width="21.80" height="21.79" fill="#00a8ff"/>
<rect x="779.40" y="560.36" width="21.80" height="21.79" fill="#0060ff"/>
<rect x="800.60" y="560.36" width="21.80" height="21.79" fill="#0018ff"/>
<rect x="821.80" y="560.36" width="21.80" height="21.79" fill="#0004ff"/>
<rect x="843.00" y="560.36" width="21.80" height="21.79" fill="#0004ff"/>
<rect x="864.20" y="560.36" width="21.80" height="21.79" fill="#0000ff"/>
<rect x="885.40" y="560.36" width="21.80" height="21.79" fill="#0000da"/>
<rect x="906.60" y="560.36" width="21.80" height="21.79" fill="#0000ff"/>
<rect x="927.80" y="560.36" width="21.80" height="21.79" fill="#0000c4"/>
<rect x="737.00" y="581.55" width="21.80" height="21.79" fill="#63ff94"/>
<rect x="758.20" y="581.55" width="21.80" height="21.79" fill="#00dcfe"/>
<rect x="779.40" y="581.55" width="21.80" height="21.79" fill="#0094ff"/>
<rect x="800.60" y="581.55" width="21.80" height="21.79" fill="#0088ff"/>
<rect x="821.80" y="581.55" width="21.80" height="21.79" fill="#0068ff"/>
<rect x="843.00" y="581.55" width="21.80" height="21.79" fill="#0038ff"/>
<rect x="864.20" y="581.55" width="21.80" height="21.79" fill="#0060ff"/>
<rect x="885.40" y="581.55" width="21.80" height="21.79" fill="#0000ff"/>
<rect x="906.60" y="581.55" width="21.80" height="21.79" fill="#0020ff"/>
<rect x="927.80" y="581.55" width="21.80" height="21.79" fill="#0000ff"/>
<rect x="737.00" y="602.74" width="21.80" height="21.79" fill="#83ff73"/>
<rect x="758.20" y="602.74" width="21.80" height="21.79" fill="#19ffde"/>
<rect x="779.40" y="602.74" width="21.80" height="21.79" fill="#00b0ff"/>
<rect x="800.60" y="602.74" width="21.80" height="21.79" fill="#0080ff"/>
<rect x="821.80" y="602.74" width="21.80" height="21.79" fill="#0094ff"/>
<rect x="843.00" y="602.74" width="21.80" height="21.79" fill="#0068ff"/>
<rect x="864.20" y="602.74" width="21.80" height="21.79" fill="#002cff"/>
<rect x="885.40" y="602.74" width="21.80" height="21.79" fill="#0000ff"/>
<rect x="906.60" y="602.74" width="21.80" height="21.79" fill="#0000e8"/>
<rect x="927.80" y="602.74" width="21.80" height="21.79" fill="#0000cd"/>
<rect x="737.00" y="623.93" width="21.80" height="21.79" fill="#f8f500"/>
<rect x="758.20" y="623.93" width="21.80" height="21.79" fill="#53ffa4"/>
<rect x="779.40" y="623.93" width="21.80" height="21.79" fill="#29ffce"/>
<rect x="800.60" y="623.93" width="21.80" height="21.79" fill="#0ff8e7"/>
<rect x="821.80" y="623.93" width="21.80" height="21.79" fill="#009cff"/>
<rect x="843.00" y="623.93" width="21.80" height="21.79" fill="#0080ff"/>
<rect x="864.20" y="623.93" width="21.80" height="21.79" fill="#0054ff"/>
<rect x="885.40" y="623.93" width="21.80" height="21.79" fill="#0000ff"/>
<rect x="906.60" y="623.93" width="21.80" height="21.79" fill="#0000f1"/>
<rect x="927.80" y="623.93" width="21.80" height="21.79" fill="#0000da"/>
<rect x="737.00" y="645.12" width="21.80" height="21.79" fill="#beff39"/>
<rect x="758.20" y="645.12" width="21.80" height="21.79" fill="#94ff63"/>
<rect x="779.40" y="645.12" width="21.80" height="21.79" fill="#30ffc7"/>
<rect x="800.60" y="645.12" width="21.80" height="21.79" fill="#00dcfe"/>
<rect x="821.80" y="645.12" width="21.80" height="21.79" fill="#00d0ff"/>
<rect x="843.00" y="645.12" width="21.80" height="21.79" fill="#0074ff"/>
<rect x="864.20" y="645.12" width="21.80" height="21.79" fill="#0054ff"/>
<rect x="885.40" y="645.12" width="21.80" height="21.79" fill="#000cff"/>
<rect x="906.60" y="645.12" width="21.80" height="21.79" fill="#0000f1"/>
<rect x="927.80" y="645.12" width="21.80" height="21.79" fill="#0000da"/>
<rect x="737.00" y="666.31" width="21.80" height="21.79" fill="#ff5500"/>
<rect x="758.20" y="666.31" width="21.80" height="21.79" fill="#6aff8d"/>
<rect x="779.40" y="666.31" width="21.80" height="21.79" fill="#43ffb4"/>
<rect x="800.60" y="666.31" width="21.80" height="21.79" fill="#09f0ee"/>
<rect x="821.80" y="666.31" width="21.80" height="21.79" fill="#00b0ff"/>
<rect x="843.00" y="666.31" width="21.80" height="21.79" fill="#009cff"/>
<rect x="864.20" y="666.31" width="21.80" height="21.79" fill="#00b0ff"/>
<rect x="885.40" y="666.31" width="21.80" height="21.79" fill="#0018ff"/>
<rect x="906.60" y="666.31" width="21.80" height="21.79" fill="#0020ff"/>
<rect x="927.80" y="666.31" width="21.80" height="21.79" fill="#0004ff"/>
</g>
<defs><linearGradient id="cb" x1="0" y1="1" x2="0" y2="0">
<stop offset="0.000" stop-color="#000080"/>
<stop offset="0.110" stop-color="#0000ff"/>
<stop offset="0.125" stop-color="#0000ff"/>
<stop offset="0.340" stop-color="#00dcfe"/>
<stop offset="0.350" stop-color="#00e4f8"/>
<stop offset="0.375" stop-color="#16ffe1"/>
<stop offset="0.640" stop-color="#eeff09"/>
<stop offset="0.650" stop-color="#f8f500"/>
<stop offset="0.660" stop-color="#feed00"/>
<stop offset="0.890" stop-color="#ff1300"/>
<stop offset="0.910" stop-color="#e80000"/>
<stop offset="1.000" stop-color="#800000"/>
</linearGradient></defs>
<rect x="949.0" y="51.8" width="47.0" height="635.7" fill="url(#cb)"/>
<g stroke="#000" stroke-width="1.60" stroke-linecap="square" fill="none">
<line x1="101.00" y1="51.80" x2="101.00" y2="687.50"/>
<line x1="313.00" y1="51.80" x2="313.00" y2="687.50"/>
<line x1="525.00" y1="51.80" x2="525.00" y2="687.50"/>
<line x1="737.00" y1="51.80" x2="737.00" y2="687.50"/>
<line x1="949.00" y1="51.80" x2="949.00" y2="687.50"/>
<line x1="101.00" y1="51.80" x2="949.00" y2="51.80"/>
<line x1="101.00" y1="263.70" x2="949.00" y2="263.70"/>
<line x1="101.00" y1="475.60" x2="949.00" y2="475.60"/>
<line x1="101.00" y1="687.50" x2="949.00" y2="687.50"/>
<line x1="949.00" y1="51.80" x2="996.00" y2="51.80"/>
<line x1="949.00" y1="687.50" x2="996.00" y2="687.50"/>
<line x1="996.00" y1="51.80" x2="996.00" y2="687.50"/>
</g>
<g stroke="#000" stroke-width="1.5">
<line x1="177.10" y1="51.80" x2="177.10" y2="58.80"/>
<line x1="177.10" y1="263.70" x2="177.10" y2="256.70"/>
<line x1="101.00" y1="187.60" x2="108.00" y2="187.60"/>
<line x1="313.00" y1="187.60" x2="306.00" y2="187.60"/>
<line x1="264.08" y1="51.80" x2="264.08" y2="58.80"/>
<line x1="264.08" y1="263.70" x2="264.08" y2="256.70"/>
<line x1="101.00" y1="100.62" x2="108.00" y2="100.62"/>
<line x1="313.00" y1="100.62" x2="306.00" y2="100.62"/>
<line x1="389.10" y1="51.80" x2="389.10" y2="58.80"/>
<line x1="389.10" y1="263.70" x2="389.10" y2="256.70"/>
<line x1="313.00" y1="187.60" x2="320.00" y2="187.60"/>
<line x1="525.00" y1="187.60" x2="518.00" y2="187.60"/>
<line x1="476.08" y1="51.80" x2="476.08" y2="58.80"/>
<line x1="476.08" y1="263.70" x2="476.08" y2="256.70"/>
<line x1="313.00" y1="100.62" x2="320.00" y2="100.62"/>
<line x1="525.00" y1="100.62" x2="518.00" y2="100.62"/>
<line x1="601.10" y1="51.80" x2="601.10" y2="58.80"/>
<line x1="601.10" y1="263.70" x2="601.10" y2="256.70"/>
<line x1="525.00" y1="187.60" x2="532.00" y2="187.60"/>
<line x1="737.00" y1="187.60" x2="730.00" y2="187.60"/>
<line x1="688.08" y1="51.80" x2="688.08" y2="58.80"/>
<line x1="688.08" y1="263.70" x2="688.08" y2="256.70"/>
<line x1="525.00" y1="100.62" x2="532.00" y2="100.62"/>
<line x1="737.00" y1="100.62" x2="730.00" y2="100.62"/>
<line x1="813.10" y1="51.80" x2="813.10" y2="58.80"/>
<line x1="813.10" y1="263.70" x2="813.10" y2="256.70"/>
<line x1="737.00" y1="187.60" x2="744.00" y2="187.60"/>
<line x1="949.00" y1="187.60" x2="942.00" y2="187.60"/>
<line x1="900.08" y1="51.80" x2="900.08" y2="58.80"/>
<line x1="900.08" y1="263.70" x2="900.08" y2="256.70"/>
<line x1="737.00" y1="100.62" x2="744.00" y2="100.62"/>
<line x1="949.00" y1="100.62" x2="942.00" y2="100.62"/>
<line x1="177.10" y1="263.70" x2="177.10" y2="270.70"/>
<line x1="177.10" y1="475.60" x2="177.10" y2="468.60"/>
<line x1="101.00" y1="399.50" x2="108.00" y2="399.50"/>
<line x1="313.00" y1="399.50" x2="306.00" y2="399.50"/>
<line x1="264.08" y1="263.70" x2="264.08" y2="270.70"/>
<line x1="264.08" y1="475.60" x2="264.08" y2="468.60"/>
<line x1="101.00" y1="312.52" x2="108.00" y2="312.52"/>
<line x1="313.00" y1="312.52" x2="306.00" y2="312.52"/>
<line x1="389.10" y1="263.70" x2="389.10" y2="270.70"/>
<line x1="389.10" y1="475.60" x2="389.10" y2="468.60"/>
<line x1="313.00" y1="399.50" x2="320.00" y2="399.50"/>
<line x1="525.00" y1="399.50" x2="518.00" y2="399.50"/>
<line x1="476.08" y1="263.70" x2="476.08" y2="270.70"/>
<line x1="476.08" y1="475.60" x2="476.08" y2="468.60"/>
<line x1="313.00" y1="312.52" x2="320.00" y2="312.52"/>
<line x1="525.00" y1="312.52" x2="518.00" y2="312.52"/>
<line x1="601.10" y1="263.70" x2="601.10" y2="270.70"/>
<line x1="601.10" y1="475.60" x2="601.10" y2="468.60"/>
<line x1="525.00" y1="399.50" x2="532.00" y2="399.50"/>
<line x1="737.00" y1="399.50" x2="730.00" y2="399.50"/>
<line x1="688.08" y1="263.70" x2="688.08" y2="270.70"/>
<line x1="688.08" y1="475.60" x2="688.08" y2="468.60"/>
<line x1="525.00" y1="312.52" x2="532.00" y2="312.52"/>
<line x1="737.00" y1="312.52" x2="730.00" y2="312.52"/>
<line x1="813.10" y1="263.70" x2="813.10" y2="270.70"/>
<line x1="813.10" y1="475.60" x2="813.10" y2="468.60"/>
<line x1="737.00" y1="399.50" x2="744.00" y2="399.50"/>
<line x1="949.00" y1="399.50" x2="942.00" y2="399.50"/>
<line x1="900.08" y1="263.70" x2="900.08" y2="270.70"/>
<line x1="900.08" y1="475.60" x2="900.08" y2="468.60"/>
<line x1="737.00" y1="312.52" x2="744.00" y2="312.52"/>
<line x1="949.00" y1="312.52" x2="942.00" y2="312.52"/>
<line x1="177.10" y1="475.60" x2="177.10" y2="482.60"/>
<line x1="177.10" y1="687.50" x2="177.10" y2="680.50"/>
<line x1="101.00" y1="611.40" x2="108.00" y2="611.40"/>
<line x1="313.00" y1="611.40" x2="306.00" y2="611.40"/>
<line x1="264.08" y1="475.60" x2="264.08" y2="482.60"/>
<line x1="264.08" y1="687.50" x2="264.08" y2="680.50"/>
<line x1="101.00" y1="524.42" x2="108.00" y2="524.42"/>
<line x1="313.00" y1="524.42" x2="306.00" y2="524.42"/>
<line x1="389.10" y1="475.60" x2="389.10" y2="482.60"/>
<line x1="389.10" y1="687.50" x2="389.10" y2="680.50"/>
<line x1="313.00" y1="611.40" x2="320.00" y2="611.40"/>
<line x1="525.00" y1="611.40" x2="518.00" y2="611.40"/>
<line x1="476.08" y1="475.60" x2="476.08" y2="482.60"/>
<line x1="476.08" y1="687.50" x2="476.08" y2="680.50"/>
<line x1="313.00" y1="524.42" x2="320.00" y2="524.42"/>
<line x1="525.00" y1="524.42" x2="518.00" y2="524.42"/>
<line x1="601.10" y1="475.60" x2="601.10" y2="482.60"/>
<line x1="601.10" y1="687.50" x2="601.10" y2="680.50"/>
<line x1="525.00" y1="611.40" x2="532.00" y2="611.40"/>
<line x1="737.00" y1="611.40" x2="730.00" y2="611.40"/>
<line x1="688.08" y1="475.60" x2="688.08" y2="482.60"/>
<line x1="688.08" y1="687.50" x2="688.08" y2="680.50"/>
<line x1="525.00" y1="524.42" x2="532.00" y2="524.42"/>
<line x1="737.00" y1="524.42" x2="730.00" y2="524.42"/>
<line x1="813.10" y1="475.60" x2="813.10" y2="482.60"/>
<line x1="813.10" y1="687.50" x2="813.10" y2="680.50"/>
<line x1="737.00" y1="611.40" x2="744.00" y2="611.40"/>
<line x1="949.00" y1="611.40" x2="942.00" y2="611.40"/>
<line x1="900.08" y1="475.60" x2="900.08" y2="482.60"/>
<line x1="900.08" y1="687.50" x2="900.08" y2="680.50"/>
<line x1="737.00" y1="524.42" x2="744.00" y2="524.42"/>
<line x1="949.00" y1="524.42" x2="942.00" y2="524.42"/>
<line x1="996.00" y1="679.80" x2="1003.50" y2="679.80"/>
<line x1="996.00" y1="545.20" x2="1003.50" y2="545.20"/>
<line x1="996.00" y1="410.60" x2="1003.50" y2="410.60"/>
<line x1="996.00" y1="276.00" x2="1003.50" y2="276.00"/>
<line x1="996.00" y1="141.40" x2="1003.50" y2="141.40"/>
</g>
<g stroke="#000" stroke-width="1.1">
<line x1="111.87" y1="51.80" x2="111.87" y2="55.80"/>
<line x1="111.87" y1="263.70" x2="111.87" y2="259.70"/>
<line x1="101.00" y1="252.83" x2="105.00" y2="252.83"/>
<line x1="313.00" y1="252.83" x2="309.00" y2="252.83"/>
<line x1="133.62" y1="51.80" x2="133.62" y2="55.80"/>
<line x1="133.62" y1="263.70" x2="133.62" y2="259.70"/>
<line x1="101.00" y1="231.08" x2="105.00" y2="231.08"/>
<line x1="313.00" y1="231.08" x2="309.00" y2="231.08"/>
<line x1="155.36" y1="51.80" x2="155.36" y2="55.80"/>
<line x1="155.36" y1="263.70" x2="155.36" y2="259.70"/>
<line x1="101.00" y1="209.34" x2="105.00" y2="209.34"/>
<line x1="313.00" y1="209.34" x2="309.00" y2="209.34"/>
<line x1="198.85" y1="51.80" x2="198.85" y2="55.80"/>
<line x1="198.85" y1="263.70" x2="198.85" y2="259.70"/>
<line x1="101.00" y1="165.85" x2="105.00" y2="165.85"/>
<line x1="313.00" y1="165.85" x2="309.00" y2="165.85"/>
<line x1="220.59" y1="51.80" x2="220.59" y2="55.80"/>
<line x1="220.59" y1="263.70" x2="220.59" y2="259.70"/>
<line x1="101.00" y1="144.11" x2="105.00" y2="144.11"/>
<line x1="313.00" y1="144.11" x2="309.00" y2="144.11"/>
<line x1="242.33" y1="51.80" x2="242.33" y2="55.80"/>
<line x1="242.33" y1="263.70" x2="242.33" y2="259.70"/>
<line x1="101.00" y1="122.37" x2="105.00" y2="122.37"/>
<line x1="313.00" y1="122.37" x2="309.00" y2="122.37"/>
<line x1="285.82" y1="51.80" x2="285.82" y2="55.80"/>
<line x1="285.82" y1="263.70" x2="285.82" y2="259.70"/>
<line x1="101.00" y1="78.88" x2="105.00" y2="78.88"/>
<line x1="313.00" y1="78.88" x2="309.00" y2="78.88"/>
<line x1="307.56" y1="51.80" x2="307.56" y2="55.80"/>
<line x1="307.56" y1="263.70" x2="307.56" y2="259.70"/>
<line x1="101.00" y1="57.14" x2="105.00" y2="57.14"/>
<line x1="313.00" y1="57.14" x2="309.00" y2="57.14"/>
<line x1="323.87" y1="51.80" x2="323.87" y2="55.80"/>
<line x1="323.87" y1="263.70" x2="323.87" y2="259.70"/>
<line x1="313.00" y1="252.83" x2="317.00" y2="252.83"/>
<line x1="525.00" y1="252.83" x2="521.00" y2="252.83"/>
<line x1="345.62" y1="51.80" x2="345.62" y2="55.80"/>
<line x1="345.62" y1="263.70" x2="345.62" y2="259.70"/>
<line x1="313.00" y1="231.08" x2="317.00" y2="231.08"/>
<line x1="525.00" y1="231.08" x2="521.00" y2="231.08"/>
<line x1="367.36" y1="51.80" x2="367.36" y2="55.80"/>
<line x1="367.36" y1="263.70" x2="367.36" y2="259.70"/>
<line x1="313.00" y1="209.34" x2="317.00" y2="209.34"/>
<line x1="525.00" y1="209.34" x2="521.00" y2="209.34"/>
<line x1="410.85" y1="51.80" x2="410.85" y2="55.80"/>
<line x1="410.85" y1="263.70" x2="410.85" y2="259.70"/>
<line x1="313.00" y1="165.85" x2="317.00" y2="165.85"/>
<line x1="525.00" y1="165.85" x2="521.00" y2="165.85"/>
<line x1="432.59" y1="51.80" x2="432.59" y2="55.80"/>
<line x1="432.59" y1="263.70" x2="432.59" y2="259.70"/>
<line x1="313.00" y1="144.11" x2="317.00" y2="144.11"/>
<line x1="525.00" y1="144.11" x2="521.00" y2="144.11"/>
<line x1="454.33" y1="51.80" x2="454.33" y2="55.80"/>
<line x1="454.33" y1="263.70" x2="454.33" y2="259.70"/>
<line x1="313.00" y1="122.37" x2="317.00" y2="122.37"/>
<line x1="525.00" y1="122.37" x2="521.00" y2="122.37"/>
<line x1="497.82" y1="51.80" x2="497.82" y2="55.80"/>
<line x1="497.82" y1="263.70" x2="497.82" y2="259.70"/>
<line x1="313.00" y1="78.88" x2="317.00" y2="78.88"/>
<line x1="525.00" y1="78.88" x2="521.00" y2="78.88"/>
<line x1="519.56" y1="51.80" x2="519.56" y2="55.80"/>
<line x1="519.56" y1="263.70" x2="519.56" y2="259.70"/>
<line x1="313.00" y1="57.14" x2="317.00" y2="57.14"/>
<line x1="525.00" y1="57.14" x2="521.00" y2="57.14"/>
<line x1="535.87" y1="51.80" x2="535.87" y2="55.80"/>
<line x1="535.87" y1="263.70" x2="535.87" y2="259.70"/>
<line x1="525.00" y1="252.83" x2="529.00" y2="252.83"/>
<line x1="737.00" y1="252.83" x2="733.00" y2="252.83"/>
<line x1="557.62" y1="51.80" x2="557.62" y2="55.80"/>
<line x1="557.62" y1="263.70" x2="557.62" y2="259.70"/>
<line x1="525.00" y1="231.08" x2="529.00" y2="231.08"/>
<line x1="737.00" y1="231.08" x2="733.00" y2="231.08"/>
<line x1="579.36" y1="51.80" x2="579.36" y2="55.80"/>
<line x1="579.36" y1="263.70" x2="579.36" y2="259.70"/>
<line x1="525.00" y1="209.34" x2="529.00" y2="209.34"/>
<line x1="737.00" y1="209.34" x2="733.00" y2="209.34"/>
<line x1="622.85" y1="51.80" x2="622.85" y2="55.80"/>
<line x1="622.85" y1="263.70" x2="622.85" y2="259.70"/>
<line x1="525.00" y1="165.85" x2="529.00" y2="165.85"/>
<line x1="737.00" y1="165.85" x2="733.00" y2="165.85"/>
<line x1="644.59" y1="51.80" x2="644.59" y2="55.80"/>
<line x1="644.59" y1="263.70" x2="644.59" y2="259.70"/>
<line x1="525.00" y1="144.11" x2="529.00" y2="144.11"/>
<line x1="737.00" y1="144.11" x2="733.00" y2="144.11"/>
<line x1="666.33" y1="51.80" x2="666.33" y2="55.80"/>
<line x1="666.33" y1="263.70" x2="666.33" y2="259.70"/>
<line x1="525.00" y1="122.37" x2="529.00" y2="122.37"/>
<line x1="737.00" y1="122.37" x2="733.00" y2="122.37"/>
<line x1="709.82" y1="51.80" x2="709.82" y2="55.80"/>
<line x1="709.82" y1="263.70" x2="709.82" y2="259.70"/>
<line x1="525.00" y1="78.88" x2="529.00" y2="78.88"/>
<line x1="737.00" y1="78.88" x2="733.00" y2="78.88"/>
<line x1="731.56" y1="51.80" x2="731.56" y2="55.80"/>
<line x1="731.56" y1="263.70" x2="731.56" y2="259.70"/>
<line x1="525.00" y1="57.14" x2="529.00" y2="57.14"/>
<line x1="737.00" y1="57.14" x2="733.00" y2="57.14"/>
<line x1="747.87" y1="51.80" x2="747.87" y2="55.80"/>
<line x1="747.87" y1="263.70" x2="747.87" y2="259.70"/>
<line x1="737.00" y1="252.83" x2="741.00" y2="252.83"/>
<line x1="949.00" y1="252.83" x2="945.00" y2="252.83"/>
<line x1="769.62" y1="51.80" x2="769.62" y2="55.80"/>
<line x1="769.62" y1="263.70" x2="769.62" y2="259.70"/>
<line x1="737.00" y1="231.08" x2="741.00" y2="231.08"/>
<line x1="949.00" y1="231.08" x2="945.00" y2="231.08"/>
<line x1="791.36" y1="51.80" x2="791.36" y2="55.80"/>
<line x1="791.36" y1="263.70" x2="791.36" y2="259.70"/>
<line x1="737.00" y1="209.34" x2="741.00" y2="209.34"/>
<line x1="949.00" y1="209.34" x2="945.00" y2="209.34"/>
<line x1="834.85" y1="51.80" x2="834.85" y2="55.80"/>
<line x1="834.85" y1="263.70" x2="834.85" y2="259.70"/>
<line x1="737.00" y1="165.85" x2="741.00" y2="165.85"/>
<line x1="949.00" y1="165.85" x2="945.00" y2="165.85"/>
<line x1="856.59" y1="51.80" x2="856.59" y2="55.80"/>
<line x1="856.59" y1="263.70" x2="856.59" y2="259.70"/>
<line x1="737.00" y1="144.11" x2="741.00" y2="144.11"/>
<line x1="949.00" y1="144.11" x2="945.00" y2="144.11"/>
<line x1="878.33" y1="51.80" x2="878.33" y2="55.80"/>
<line x1="878.33" y1="263.70" x2="878.33" y2="259.70"/>
<line x1="737.00" y1="122.37" x2="741.00" y2="122.37"/>
<line x1="949.00" y1="122.37" x2="945.00" y2="122.37"/>
<line x1="921.82" y1="51.80" x2="921.82" y2="55.80"/>
<line x1="921.82" y1="263.70" x2="921.82" y2="259.70"/>
<line x1="737.00" y1="78.88" x2="741.00" y2="78.88"/>
<line x1="949.00" y1="78.88" x2="945.00" y2="78.88"/>
<line x1="943.56" y1="51.80" x2="943.56" y2="55.80"/>
<line x1="943.56" y1="263.70" x2="943.56" y2="259.70"/>
<line x1="737.00" y1="57.14" x2="741.00" y2="57.14"/>
<line x1="949.00" y1="57.14" x2="945.00" y2="57.14"/>
<line x1="111.87" y1="263.70" x2="111.87" y2="267.70"/>
<line x1="111.87" y1="475.60" x2="111.87" y2="471.60"/>
<line x1="101.00" y1="464.73" x2="105.00" y2="464.73"/>
<line x1="313.00" y1="464.73" x2="309.00" y2="464.73"/>
<line x1="133.62" y1="263.70" x2="133.62" y2="267.70"/>
<line x1="133.62" y1="475.60" x2="133.62" y2="471.60"/>
<line x1="101.00" y1="442.98" x2="105.00" y2="442.98"/>
<line x1="313.00" y1="442.98" x2="309.00" y2="442.98"/>
<line x1="155.36" y1="263.70" x2="155.36" y2="267.70"/>
<line x1="155.36" y1="475.60" x2="155.36" y2="471.60"/>
<line x1="101.00" y1="421.24" x2="105.00" y2="421.24"/>
<line x1="313.00" y1="421.24" x2="309.00" y2="421.24"/>
<line x1="198.85" y1="263.70" x2="198.85" y2="267.70"/>
<line x1="198.85" y1="475.60" x2="198.85" y2="471.60"/>
<line x1="101.00" y1="377.75" x2="105.00" y2="377.75"/>
<line x1="313.00" y1="377.75" x2="309.00" y2="377.75"/>
<line x1="220.59" y1="263.70" x2="220.59" y2="267.70"/>
<line x1="220.59" y1="475.60" x2="220.59" y2="471.60"/>
<line x1="101.00" y1="356.01" x2="105.00" y2="356.01"/>
<line x1="313.00" y1="356.01" x2="309.00" y2="356.01"/>
<line x1="242.33" y1="263.70" x2="242.33" y2="267.70"/>
<line x1="242.33" y1="475.60" x2="242.33" y2="471.60"/>
<line x1="101.00" y1="334.27" x2="105.00" y2="334.27"/>
<line x1="313.00" y1="334.27" x2="309.00" y2="334.27"/>
<line x1="285.82" y1="263.70" x2="285.82" y2="267.70"/>
<line x1="285.82" y1="475.60" x2="285.82" y2="471.60"/>
<line x1="101.00" y1="290.78" x2="105.00" y2="290.78"/>
<line x1="313.00" y1="290.78" x2="309.00" y2="290.78"/>
<line x1="307.56" y1="263.70" x2="307.56" y2="267.70"/>
<line x1="307.56" y1="475.60" x2="307.56" y2="471.60"/>
<line x1="101.00" y1="269.04" x2="105.00" y2="269.04"/>
<line x1="313.00" y1="269.04" x2="309.00" y2="269.04"/>
<line x1="323.87" y1="263.70" x2="323.87" y2="267.70"/>
<line x1="323.87" y1="475.60" x2="323.87" y2="471.60"/>
<line x1="313.00" y1="464.73" x2="317.00" y2="464.73"/>
<line x1="525.00" y1="464.73" x2="521.00" y2="464.73"/>
<line x1="345.62" y1="263.70" x2="345.62" y2="267.70"/>
<line x1="345.62" y1="475.60" x2="345.62" y2="471.60"/>
<line x1="313.00" y1="442.98" x2="317.00" y2="442.98"/>
<line x1="525.00" y1="442.98" x2="521.00" y2="442.98"/>
<line x1="367.36" y1="263.70" x2="367.36" y2="267.70"/>
<line x1="367.36" y1="475.60" x2="367.36" y2="471.60"/>
<line x1="313.00" y1="421.24" x2="317.00" y2="421.24"/>
<line x1="525.00" y1="421.24" x2="521.00" y2="421.24"/>
<line x1="410.85" y1="263.70" x2="410.85" y2="267.70"/>
<line x1="410.85" y1="475.60" x2="410.85" y2="471.60"/>
<line x1="313.00" y1="377.75" x2="317.00" y2="377.75"/>
<line x1="525.00" y1="377.75" x2="521.00" y2="377.75"/>
<line x1="432.59" y1="263.70" x2="432.59" y2="267.70"/>
<line x1="432.59" y1="475.60" x2="432.59" y2="471.60"/>
<line x1="313.00" y1="356.01" x2="317.00" y2="356.01"/>
<line x1="525.00" y1="356.01" x2="521.00" y2="356.01"/>
<line x1="454.33" y1="263.70" x2="454.33" y2="267.70"/>
<line x1="454.33" y1="475.60" x2="454.33" y2="471.60"/>
<line x1="313.00" y1="334.27" x2="317.00" y2="334.27"/>
<line x1="525.00" y1="334.27" x2="521.00" y2="334.27"/>
<line x1="497.82" y1="263.70" x2="497.82" y2="267.70"/>
<line x1="497.82" y1="475.60" x2="497.82" y2="471.60"/>
<line x1="313.00" y1="290.78" x2="317.00" y2="290.78"/>
<line x1="525.00" y1="290.78" x2="521.00" y2="290.78"/>
<line x1="519.56" y1="263.70" x2="519.56" y2="267.70"/>
<line x1="519.56" y1="475.60" x2="519.56" y2="471.60"/>
<line x1="313.00" y1="269.04" x2="317.00" y2="269.04"/>
<line x1="525.00" y1="269.04" x2="521.00" y2="269.04"/>
<line x1="535.87" y1="263.70" x2="535.87" y2="267.70"/>
<line x1="535.87" y1="475.60" x2="535.87" y2="471.60"/>
<line x1="525.00" y1="464.73" x2="529.00" y2="464.73"/>
<line x1="737.00" y1="464.73" x2="733.00" y2="464.73"/>
<line x1="557.62" y1="263.70" x2="557.62" y2="267.70"/>
<line x1="557.62" y1="475.60" x2="557.62" y2="471.60"/>
<line x1="525.00" y1="442.98" x2="529.00" y2="442.98"/>
<line x1="737.00" y1="442.98" x2="733.00" y2="442.98"/>
<line x1="579.36" y1="263.70" x2="579.36" y2="267.70"/>
<line x1="579.36" y1="475.60" x2="579.36" y2="471.60"/>
<line x1="525.00" y1="421.24" x2="529.00" y2="421.24"/>
<line x1="737.00" y1="421.24" x2="733.00" y2="421.24"/>
<line x1="622.85" y1="263.70" x2="622.85" y2="267.70"/>
<line x1="622.85" y1="475.60" x2="622.85" y2="471.60"/>
<line x1="525.00" y1="377.75" x2="529.00" y2="377.75"/>
<line x1="737.00" y1="377.75" x2="733.00" y2="377.75"/>
<line x1="644.59" y1="263.70" x2="644.59" y2="267.70"/>
<line x1="644.59" y1="475.60" x2="644.59" y2="471.60"/>
<line x1="525.00" y1="356.01" x2="529.00" y2="356.01"/>
<line x1="737.00" y1="356.01" x2="733.00" y2="356.01"/>
<line x1="666.33" y1="263.70" x2="666.33" y2="267.70"/>
<line x1="666.33" y1="475.60" x2="666.33" y2="471.60"/>
<line x1="525.00" y1="334.27" x2="529.00" y2="334.27"/>
<line x1="737.00" y1="334.27" x2="733.00" y2="334.27"/>
<line x1="709.82" y1="263.70" x2="709.82" y2="267.70"/>
<line x1="709.82" y1="475.60" x2="709.82" y2="471.60"/>
<line x1="525.00" y1="290.78" x2="529.00" y2="290.78"/>
<line x1="737.00" y1="290.78" x2="733.00" y2="290.78"/>
<line x1="731.56" y1="263.70" x2="731.56" y2="267.70"/>
<line x1="731.56" y1="475.60" x2="731.56" y2="471.60"/>
<line x1="525.00" y1="269.04" x2="529.00" y2="269.04"/>
<line x1="737.00" y1="269.04" x2="733.00" y2="269.04"/>
<line x1="747.87" y1="263.70" x2="747.87" y2="267.70"/>
<line x1="747.87" y1="475.60" x2="747.87" y2="471.60"/>
<line x1="737.00" y1="464.73" x2="741.00" y2="464.73"/>
<line x1="949.00" y1="464.73" x2="945.00" y2="464.73"/>
<line x1="769.62" y1="263.70" x2="769.62" y2="267.70"/>
<line x1="769.62" y1="475.60" x2="769.62" y2="471.60"/>
<line x1="737.00" y1="442.98" x2="741.00" y2="442.98"/>
<line x1="949.00" y1="442.98" x2="945.00" y2="442.98"/>
<line x1="791.36" y1="263.70" x2="791.36" y2="267.70"/>
<line x1="791.36" y1="475.60" x2="791.36" y2="471.60"/>
<line x1="737.00" y1="421.24" x2="741.00" y2="421.24"/>
<line x1="949.00" y1="421.24" x2="945.00" y2="421.24"/>
<line x1="834.85" y1="263.70" x2="834.85" y2="267.70"/>
<line x1="834.85" y1="475.60" x2="834.85" y2="471.60"/>
<line x1="737.00" y1="377.75" x2="741.00" y2="377.75"/>
<line x1="949.00" y1="377.75" x2="945.00" y2="377.75"/>
<line x1="856.59" y1="263.70" x2="856.59" y2="267.70"/>
<line x1="856.59" y1="475.60" x2="856.59" y2="471.60"/>
<line x1="737.00" y1="356.01" x2="741.00" y2="356.01"/>
<line x1="949.00" y1="356.01" x2="945.00" y2="356.01"/>
<line x1="878.33" y1="263.70" x2="878.33" y2="267.70"/>
<line x1="878.33" y1="475.60" x2="878.33" y2="471.60"/>
<line x1="737.00" y1="334.27" x2="741.00" y2="334.27"/>
<line x1="949.00" y1="334.27" x2="945.00" y2="334.27"/>
<line x1="921.82" y1="263.70" x2="921.82" y2="267.70"/>
<line x1="921.82" y1="475.60" x2="921.82" y2="471.60"/>
<line x1="737.00" y1="290.78" x2="741.00" y2="290.78"/>
<line x1="949.00" y1="290.78" x2="945.00" y2="290.78"/>
<line x1="943.56" y1="263.70" x2="943.56" y2="267.70"/>
<line x1="943.56" y1="475.60" x2="943.56" y2="471.60"/>
<line x1="737.00" y1="269.04" x2="741.00" y2="269.04"/>
<line x1="949.00" y1="269.04" x2="945.00" y2="269.04"/>
<line x1="111.87" y1="475.60" x2="111.87" y2="479.60"/>
<line x1="111.87" y1="687.50" x2="111.87" y2="683.50"/>
<line x1="101.00" y1="676.63" x2="105.00" y2="676.63"/>
<line x1="313.00" y1="676.63" x2="309.00" y2="676.63"/>
<line x1="133.62" y1="475.60" x2="133.62" y2="479.60"/>
<line x1="133.62" y1="687.50" x2="133.62" y2="683.50"/>
<line x1="101.00" y1="654.88" x2="105.00" y2="654.88"/>
<line x1="313.00" y1="654.88" x2="309.00" y2="654.88"/>
<line x1="155.36" y1="475.60" x2="155.36" y2="479.60"/>
<line x1="155.36" y1="687.50" x2="155.36" y2="683.50"/>
<line x1="101.00" y1="633.14" x2="105.00" y2="633.14"/>
<line x1="313.00" y1="633.14" x2="309.00" y2="633.14"/>
<line x1="198.85" y1="475.60" x2="198.85" y2="479.60"/>
<line x1="198.85" y1="687.50" x2="198.85" y2="683.50"/>
<line x1="101.00" y1="589.65" x2="105.00" y2="589.65"/>
<line x1="313.00" y1="589.65" x2="309.00" y2="589.65"/>
<line x1="220.59" y1="475.60" x2="220.59" y2="479.60"/>
<line x1="220.59" y1="687.50" x2="220.59" y2="683.50"/>
<line x1="101.00" y1="567.91" x2="105.00" y2="567.91"/>
<line x1="313.00" y1="567.91" x2="309.00" y2="567.91"/>
<line x1="242.33" y1="475.60" x2="242.33" y2="479.60"/>
<line x1="242.33" y1="687.50" x2="242.33" y2="683.50"/>
<line x1="101.00" y1="546.17" x2="105.00" y2="546.17"/>
<line x1="313.00" y1="546.17" x2="309.00" y2="546.17"/>
<line x1="285.82" y1="475.60" x2="285.82" y2="479.60"/>
<line x1="285.82" y1="687.50" x2="285.82" y2="683.50"/>
<line x1="101.00" y1="502.68" x2="105.00" y2="502.68"/>
<line x1="313.00" y1="502.68" x2="309.00" y2="502.68"/>
<line x1="307.56" y1="475.60" x2="307.56" y2="479.60"/>
<line x1="307.56" y1="687.50" x2="307.56" y2="683.50"/>
<line x1="101.00" y1="480.94" x2="105.00" y2="480.94"/>
<line x1="313.00" y1="480.94" x2="309.00" y2="480.94"/>
<line x1="323.87" y1="475.60" x2="323.87" y2="479.60"/>
<line x1="323.87" y1="687.50" x2="323.87" y2="683.50"/>
<line x1="313.00" y1="676.63" x2="317.00" y2="676.63"/>
<line x1="525.00" y1="676.63" x2="521.00" y2="676.63"/>
<line x1="345.62" y1="475.60" x2="345.62" y2="479.60"/>
<line x1="345.62" y1="687.50" x2="345.62" y2="683.50"/>
<line x1="313.00" y1="654.88" x2="317.00" y2="654.88"/>
<line x1="525.00" y1="654.88" x2="521.00" y2="654.88"/>
<line x1="367.36" y1="475.60" x2="367.36" y2="479.60"/>
<line x1="367.36" y1="687.50" x2="367.36" y2="683.50"/>
<line x1="313.00" y1="633.14" x2="317.00" y2="633.14"/>
<line x1="525.00" y1="633.14" x2="521.00" y2="633.14"/>
<line x1="410.85" y1="475.60" x2="410.85" y2="479.60"/>
<line x1="410.85" y1="687.50" x2="410.85" y2="683.50"/>
<line x1="313.00" y1="589.65" x2="317.00" y2="589.65"/>
<line x1="525.00" y1="589.65" x2="521.00" y2="589.65"/>
<line x1="432.59" y1="475.60" x2="432.59" y2="479.60"/>
<line x1="432.59" y1="687.50" x2="432.59" y2="683.50"/>
<line x1="313.00" y1="567.91" x2="317.00" y2="567.91"/>
<line x1="525.00" y1="567.91" x2="521.00" y2="567.91"/>
<line x1="454.33" y1="475.60" x2="454.33" y2="479.60"/>
<line x1="454.33" y1="687.50" x2="454.33" y2="683.50"/>
<line x1="313.00" y1="546.17" x2="317.00" y2="546.17"/>
<line x1="525.00" y1="546.17" x2="521.00" y2="546.17"/>
<line x1="497.82" y1="475.60" x2="497.82" y2="479.60"/>
<line x1="497.82" y1="687.50" x2="497.82" y2="683.50"/>
<line x1="313.00" y1="502.68" x2="317.00" y2="502.68"/>
<line x1="525.00" y1="502.68" x2="521.00" y2="502.68"/>
<line x1="519.56" y1="475.60" x2="519.56" y2="479.60"/>
<line x1="519.56" y1="687.50" x2="519.56" y2="683.50"/>
<line x1="313.00" y1="480.94" x2="317.00" y2="480.94"/>
<line x1="525.00" y1="480.94" x2="521.00" y2="480.94"/>
<line x1="535.87" y1="475.60" x2="535.87" y2="479.60"/>
<line x1="535.87" y1="687.50" x2="535.87" y2="683.50"/>
<line x1="525.00" y1="676.63" x2="529.00" y2="676.63"/>
<line x1="737.00" y1="676.63" x2="733.00" y2="676.63"/>
<line x1="557.62" y1="475.60" x2="557.62" y2="479.60"/>
<line x1="557.62" y1="687.50" x2="557.62" y2="683.50"/>
<line x1="525.00" y1="654.88" x2="529.00" y2="654.88"/>
<line x1="737.00" y1="654.88" x2="733.00" y2="654.88"/>
<line x1="579.36" y1="475.60" x2="579.36" y2="479.60"/>
<line x1="579.36" y1="687.50" x2="579.36" y2="683.50"/>
<line x1="525.00" y1="633.14" x2="529.00" y2="633.14"/>
<line x1="737.00" y1="633.14" x2="733.00" y2="633.14"/>
<line x1="622.85" y1="475.60" x2="622.85" y2="479.60"/>
<line x1="622.85" y1="687.50" x2="622.85" y2="683.50"/>
<line x1="525.00" y1="589.65" x2="529.00" y2="589.65"/>
<line x1="737.00" y1="589.65" x2="733.00" y2="589.65"/>
<line x1="644.59" y1="475.60" x2="644.59" y2="479.60"/>
<line x1="644.59" y1="687.50" x2="644.59" y2="683.50"/>
<line x1="525.00" y1="567.91" x2="529.00" y2="567.91"/>
<line x1="737.00" y1="567.91" x2="733.00" y2="567.91"/>
<line x1="666.33" y1="475.60" x2="666.33" y2="479.60"/>
<line x1="666.33" y1="687.50" x2="666.33" y2="683.50"/>
<line x1="525.00" y1="546.17" x2="529.00" y2="546.17"/>
<line x1="737.00" y1="546.17" x2="733.00" y2="546.17"/>
<line x1="709.82" y1="475.60" x2="709.82" y2="479.60"/>
<line x1="709.82" y1="687.50" x2="709.82" y2="683.50"/>
<line x1="525.00" y1="502.68" x2="529.00" y2="502.68"/>
<line x1="737.00" y1="502.68" x2="733.00" y2="502.68"/>
<line x1="731.56" y1="475.60" x2="731.56" y2="479.60"/>
<line x1="731.56" y1="687.50" x2="731.56" y2="683.50"/>
<line x1="525.00" y1="480.94" x2="529.00" y2="480.94"/>
<line x1="737.00" y1="480.94" x2="733.00" y2="480.94"/>
<line x1="747.87" y1="475.60" x2="747.87" y2="479.60"/>
<line x1="747.87" y1="687.50" x2="747.87" y2="683.50"/>
<line x1="737.00" y1="676.63" x2="741.00" y2="676.63"/>
<line x1="949.00" y1="676.63" x2="945.00" y2="676.63"/>
<line x1="769.62" y1="475.60" x2="769.62" y2="479.60"/>
<line x1="769.62" y1="687.50" x2="769.62" y2="683.50"/>
<line x1="737.00" y1="654.88" x2="741.00" y2="654.88"/>
<line x1="949.00" y1="654.88" x2="945.00" y2="654.88"/>
<line x1="791.36" y1="475.60" x2="791.36" y2="479.60"/>
<line x1="791.36" y1="687.50" x2="791.36" y2="683.50"/>
<line x1="737.00" y1="633.14" x2="741.00" y2="633.14"/>
<line x1="949.00" y1="633.14" x2="945.00" y2="633.14"/>
<line x1="834.85" y1="475.60" x2="834.85" y2="479.60"/>
<line x1="834.85" y1="687.50" x2="834.85" y2="683.50"/>
<line x1="737.00" y1="589.65" x2="741.00" y2="589.65"/>
<line x1="949.00" y1="589.65" x2="945.00" y2="589.65"/>
<line x1="856.59" y1="475.60" x2="856.59" y2="479.60"/>
<line x1="856.59" y1="687.50" x2="856.59" y2="683.50"/>
<line x1="737.00" y1="567.91" x2="741.00" y2="567.91"/>
<line x1="949.00" y1="567.91" x2="945.00" y2="567.91"/>
<line x1="878.33" y1="475.60" x2="878.33" y2="479.60"/>
<line x1="878.33" y1="687.50" x2="878.33" y2="683.50"/>
<line x1="737.00" y1="546.17" x2="741.00" y2="546.17"/>
<line x1="949.00" y1="546.17" x2="945.00" y2="546.17"/>
<line x1="921.82" y1="475.60" x2="921.82" y2="479.60"/>
<line x1="921.82" y1="687.50" x2="921.82" y2="683.50"/>
<line x1="737.00" y1="502.68" x2="741.00" y2="502.68"/>
<line x1="949.00" y1="502.68" x2="945.00" y2="502.68"/>
<line x1="943.56" y1="475.60" x2="943.56" y2="479.60"/>
<line x1="943.56" y1="687.50" x2="943.56" y2="683.50"/>
<line x1="737.00" y1="480.94" x2="741.00" y2="480.94"/>
<line x1="949.00" y1="480.94" x2="945.00" y2="480.94"/>
<line x1="996.00" y1="639.28" x2="1000.00" y2="639.28"/>
<line x1="996.00" y1="615.58" x2="1000.00" y2="615.58"/>
<line x1="996.00" y1="598.76" x2="1000.00" y2="598.76"/>
<line x1="996.00" y1="585.72" x2="1000.00" y2="585.72"/>
<line x1="996.00" y1="575.06" x2="1000.00" y2="575.06"/>
<line x1="996.00" y1="566.05" x2="1000.00" y2="566.05"/>
<line x1="996.00" y1="558.24" x2="1000.00" y2="558.24"/>
<line x1="996.00" y1="551.36" x2="1000.00" y2="551.36"/>
<line x1="996.00" y1="504.68" x2="1000.00" y2="504.68"/>
<line x1="996.00" y1="480.98" x2="1000.00" y2="480.98"/>
<line x1="996.00" y1="464.16" x2="1000.00" y2="464.16"/>
<line x1="996.00" y1="451.12" x2="1000.00" y2="451.12"/>
<line x1="996.00" y1="440.46" x2="1000.00" y2="440.46"/>
<line x1="996.00" y1="431.45" x2="1000.00" y2="431.45"/>
<line x1="996.00" y1="423.64" x2="1000.00" y2="423.64"/>
<line x1="996.00" y1="416.76" x2="1000.00" y2="416.76"/>
<line x1="996.00" y1="370.08" x2="1000.00" y2="370.08"/>
<line x1="996.00" y1="346.38" x2="1000.00" y2="346.38"/>
<line x1="996.00" y1="329.56" x2="1000.00" y2="329.56"/>
<line x1="996.00" y1="316.52" x2="1000.00" y2="316.52"/>
<line x1="996.00" y1="305.86" x2="1000.00" y2="305.86"/>
<line x1="996.00" y1="296.85" x2="1000.00" y2="296.85"/>
<line x1="996.00" y1="289.04" x2="1000.00" y2="289.04"/>
<line x1="996.00" y1="282.16" x2="1000.00" y2="282.16"/>
<line x1="996.00" y1="235.48" x2="1000.00" y2="235.48"/>
<line x1="996.00" y1="211.78" x2="1000.00" y2="211.78"/>
<line x1="996.00" y1="194.96" x2="1000.00" y2="194.96"/>
<line x1="996.00" y1="181.92" x2="1000.00" y2="181.92"/>
<line x1="996.00" y1="171.26" x2="1000.00" y2="171.26"/>
<line x1="996.00" y1="162.25" x2="1000.00" y2="162.25"/>
<line x1="996.00" y1="154.44" x2="1000.00" y2="154.44"/>
<line x1="996.00" y1="147.56" x2="1000.00" y2="147.56"/>
<line x1="996.00" y1="100.88" x2="1000.00" y2="100.88"/>
<line x1="996.00" y1="77.18" x2="1000.00" y2="77.18"/>
<line x1="996.00" y1="60.36" x2="1000.00" y2="60.36"/>
</g>
<text x="59.00" y="195.90" font-size="23" textLength="34.5" lengthAdjust="spacingAndGlyphs">0.2</text>
<text x="59.00" y="108.92" font-size="23" textLength="34.5" lengthAdjust="spacingAndGlyphs">0.4</text>
<text x="59.00" y="407.80" font-size="23" textLength="34.5" lengthAdjust="spacingAndGlyphs">0.2</text>
<text x="59.00" y="320.82" font-size="23" textLength="34.5" lengthAdjust="spacingAndGlyphs">0.4</text>
<text x="59.00" y="619.70" font-size="23" textLength="34.5" lengthAdjust="spacingAndGlyphs">0.2</text>
<text x="59.00" y="532.72" font-size="23" textLength="34.5" lengthAdjust="spacingAndGlyphs">0.4</text>
<text x="159.85" y="712.90" font-size="23" textLength="34.5" lengthAdjust="spacingAndGlyphs">0.2</text>
<text x="246.83" y="712.90" font-size="23" textLength="34.5" lengthAdjust="spacingAndGlyphs">0.4</text>
<text x="371.85" y="712.90" font-size="23" textLength="34.5" lengthAdjust="spacingAndGlyphs">0.2</text>
<text x="458.83" y="712.90" font-size="23" textLength="34.5" lengthAdjust="spacingAndGlyphs">0.4</text>
<text x="583.85" y="712.90" font-size="23" textLength="34.5" lengthAdjust="spacingAndGlyphs">0.2</text>
<text x="670.83" y="712.90" font-size="23" textLength="34.5" lengthAdjust="spacingAndGlyphs">0.4</text>
<text x="795.85" y="712.90" font-size="23" textLength="34.5" lengthAdjust="spacingAndGlyphs">0.2</text>
<text x="882.83" y="712.90" font-size="23" textLength="34.5" lengthAdjust="spacingAndGlyphs">0.4</text>
<text x="112.50" y="79.40" font-size="23" textLength="141.0" lengthAdjust="spacingAndGlyphs">106-121MHz</text>
<text x="324.50" y="79.40" font-size="23" textLength="141.0" lengthAdjust="spacingAndGlyphs">106-121MHz</text>
<text x="536.50" y="79.40" font-size="23" textLength="141.0" lengthAdjust="spacingAndGlyphs">121-136MHz</text>
<text x="748.50" y="79.40" font-size="23" textLength="141.0" lengthAdjust="spacingAndGlyphs">121-136MHz</text>
<text x="112.50" y="291.30" font-size="23" textLength="141.0" lengthAdjust="spacingAndGlyphs">136-151MHz</text>
<text x="324.50" y="291.30" font-size="23" textLength="141.0" lengthAdjust="spacingAndGlyphs">136-151MHz</text>
<text x="536.50" y="291.30" font-size="23" textLength="141.0" lengthAdjust="spacingAndGlyphs">151-166MHz</text>
<text x="748.50" y="291.30" font-size="23" textLength="141.0" lengthAdjust="spacingAndGlyphs">151-166MHz</text>
<text x="112.50" y="503.20" font-size="23" textLength="141.0" lengthAdjust="spacingAndGlyphs">166-181MHz</text>
<text x="324.50" y="503.20" font-size="23" textLength="141.0" lengthAdjust="spacingAndGlyphs">166-181MHz</text>
<text x="536.50" y="503.20" font-size="23" textLength="141.0" lengthAdjust="spacingAndGlyphs">181-196MHz</text>
<text x="748.50" y="503.20" font-size="23" textLength="141.0" lengthAdjust="spacingAndGlyphs">181-196MHz</text>
<text x="1012.00" y="687.70" font-size="23.0" textLength="28.2" lengthAdjust="spacingAndGlyphs">10</text>
<rect x="1041.6" y="673.10" width="10.1" height="1.6" fill="#000"/>
<text x="1053.2" y="679.30" font-size="16.0">4</text>
<text x="1012.00" y="553.10" font-size="23.0" textLength="28.2" lengthAdjust="spacingAndGlyphs">10</text>
<rect x="1041.6" y="538.50" width="10.1" height="1.6" fill="#000"/>
<text x="1053.2" y="544.70" font-size="16.0">3</text>
<text x="1012.00" y="418.50" font-size="23.0" textLength="28.2" lengthAdjust="spacingAndGlyphs">10</text>
<rect x="1041.6" y="403.90" width="10.1" height="1.6" fill="#000"/>
<text x="1053.2" y="410.10" font-size="16.0">2</text>
<text x="1012.00" y="283.90" font-size="23.0" textLength="28.2" lengthAdjust="spacingAndGlyphs">10</text>
<rect x="1041.6" y="269.30" width="10.1" height="1.6" fill="#000"/>
<text x="1053.2" y="275.50" font-size="16.0">1</text>
<text x="1012.00" y="149.30" font-size="23.0" textLength="28.2" lengthAdjust="spacingAndGlyphs">10</text>
<text x="1040.00" y="140.90" font-size="16.0">0</text>
<text x="186.50" y="36.60" font-size="27.0" font-style="italic">P</text>
<text x="206.50" y="26.30" font-size="18.0" font-style="italic">&#957;</text><text x="216.00" y="28.80" font-size="13.0">2</text>
<text x="204.20" y="44.00" font-size="18.0" font-style="italic">&#957;</text><text x="213.70" y="46.50" font-size="13.0">1</text>
<text x="390.80" y="36.60" font-size="27.0" font-style="italic">&#948;</text>
<text x="406.50" y="36.60" font-size="27.0" font-style="italic">P</text>
<text x="426.90" y="26.30" font-size="18.0" font-style="italic">&#957;</text><text x="436.40" y="28.80" font-size="13.0">2</text>
<text x="424.50" y="44.00" font-size="18.0" font-style="italic">&#957;</text><text x="434.00" y="46.50" font-size="13.0">1</text>
<text x="610.50" y="36.60" font-size="27.0" font-style="italic">P</text>
<text x="630.50" y="26.30" font-size="18.0" font-style="italic">&#957;</text><text x="640.00" y="28.80" font-size="13.0">2</text>
<text x="628.20" y="44.00" font-size="18.0" font-style="italic">&#957;</text><text x="637.70" y="46.50" font-size="13.0">1</text>
<text x="814.80" y="36.60" font-size="27.0" font-style="italic">&#948;</text>
<text x="830.50" y="36.60" font-size="27.0" font-style="italic">P</text>
<text x="850.90" y="26.30" font-size="18.0" font-style="italic">&#957;</text><text x="860.40" y="28.80" font-size="13.0">2</text>
<text x="848.50" y="44.00" font-size="18.0" font-style="italic">&#957;</text><text x="858.00" y="46.50" font-size="13.0">1</text>
<g transform="translate(472.4,747.8)"><text x="-0.2" y="0" font-size="24.0" font-style="italic">k</text><path d="M15.9 2.3 H25.2 M20.55 2.3 V-7.1" stroke="#000" stroke-width="1.1" fill="none"/><path d="M40.60 -20.4 H37.60 V4.0 H40.60" stroke="#000" stroke-width="1.0" fill="none"/><text x="41.00" y="0" font-size="24.0">h</text><text x="58.60" y="0" font-size="24.0">c</text><text x="74.55" y="0" font-size="24.0">M</text><text x="93.90" y="0" font-size="24.0">p</text><text x="108.30" y="0" font-size="24.0">c</text><path d="M121.80 -13.6 H131.80" stroke="#000" stroke-width="1.6" fill="none"/><text x="133.30" y="-8.6" font-size="16">1</text><path d="M144.30 -20.4 H147.40 V4.0 H144.30" stroke="#000" stroke-width="1.0" fill="none"/></g>
<g transform="translate(36.3,445.1) rotate(-90)"><text x="-0.2" y="0" font-size="24.0" font-style="italic">k</text><path d="M17.4 -9.2 V6.8 M21.0 -9.2 V6.8" stroke="#000" stroke-width="1.2" fill="none"/><path d="M38.00 -20.4 H35.00 V4.0 H38.00" stroke="#000" stroke-width="1.0" fill="none"/><text x="38.40" y="0" font-size="24.0">h</text><text x="56.00" y="0" font-size="24.0">c</text><text x="71.95" y="0" font-size="24.0">M</text><text x="91.30" y="0" font-size="24.0">p</text><text x="105.70" y="0" font-size="24.0">c</text><path d="M119.20 -13.6 H129.20" stroke="#000" stroke-width="1.6" fill="none"/><text x="130.70" y="-8.6" font-size="16">1</text><path d="M141.70 -20.4 H144.80 V4.0 H141.70" stroke="#000" stroke-width="1.0" fill="none"/></g>
</svg></body></html>
